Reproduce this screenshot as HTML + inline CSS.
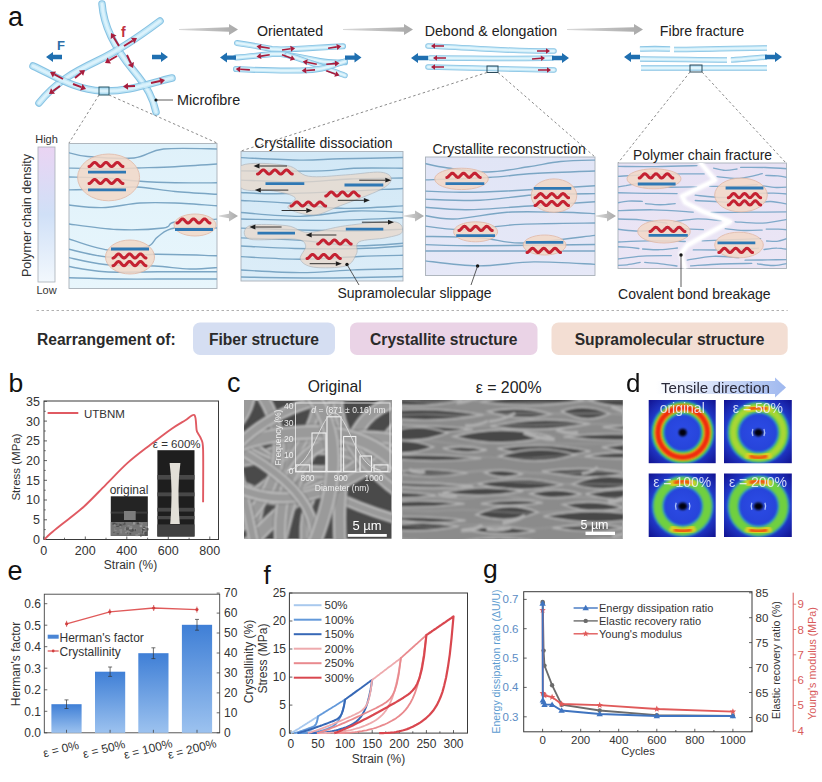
<!DOCTYPE html>
<html><head><meta charset="utf-8"><style>
html,body{margin:0;padding:0;background:#fff;}
svg{display:block;font-family:"Liberation Sans",sans-serif;}
</style></head><body>
<svg width="822" height="782" viewBox="0 0 822 782" font-family="Liberation Sans, sans-serif">
<defs>
<linearGradient id="densbar" x1="0" y1="0" x2="0" y2="1">
 <stop offset="0" stop-color="#ead4f3"/><stop offset="0.5" stop-color="#d0e0f7"/><stop offset="1" stop-color="#f2f8fd"/>
</linearGradient>
<linearGradient id="p1bg" x1="0" y1="0" x2="0" y2="1"><stop offset="0" stop-color="#dff1fa"/><stop offset="1" stop-color="#e8f6fc"/></linearGradient>
<linearGradient id="p2bg" x1="0" y1="0" x2="0" y2="1"><stop offset="0" stop-color="#d2e8f6"/><stop offset="1" stop-color="#dcedf8"/></linearGradient>
<linearGradient id="p3bg" x1="0" y1="0" x2="0" y2="1"><stop offset="0" stop-color="#e1e5f6"/><stop offset="1" stop-color="#e6e8f7"/></linearGradient>
<linearGradient id="p4bg" x1="0" y1="0" x2="0" y2="1"><stop offset="0" stop-color="#e8e2f4"/><stop offset="1" stop-color="#ebe6f5"/></linearGradient>
<linearGradient id="tens" x1="0" y1="0" x2="1" y2="0"><stop offset="0" stop-color="#ffffff"/><stop offset="1" stop-color="#9fb8ef"/></linearGradient>
<linearGradient id="bar" x1="0" y1="0" x2="0" y2="1"><stop offset="0" stop-color="#3f7fd6"/><stop offset="1" stop-color="#9cc2ef"/></linearGradient>
<linearGradient id="grayarr" x1="0" y1="0" x2="1" y2="0"><stop offset="0" stop-color="#d8d8d8"/><stop offset="1" stop-color="#a9a9a9"/></linearGradient>
<radialGradient id="xrdglow" cx="0.5" cy="0.5" r="0.5"><stop offset="0" stop-color="#0a2aa8"/><stop offset="0.7" stop-color="#1030b8"/><stop offset="1" stop-color="#0c1e90"/></radialGradient>
</defs>
<rect x="0" y="0" width="822" height="782" fill="#ffffff"/>
<text x="8" y="25.5" font-size="27" fill="#111" text-anchor="start" font-weight="normal" >a</text>
<path d="M102,4 C104,30 118,52 133,70 S153,98 156,112" fill="none" stroke="#86c2e3" stroke-width="7.5" stroke-linecap="round"/>
<path d="M102,4 C104,30 118,52 133,70 S153,98 156,112" fill="none" stroke="#bde4f5" stroke-width="5.4" stroke-linecap="round"/>
<path d="M102,4 C104,30 118,52 133,70 S153,98 156,112" fill="none" stroke="#e2f5fc" stroke-width="2.6" stroke-linecap="round"/>
<path d="M160,21 C140,36 120,50 97,61 S56,82 39,103" fill="none" stroke="#86c2e3" stroke-width="7.5" stroke-linecap="round"/>
<path d="M160,21 C140,36 120,50 97,61 S56,82 39,103" fill="none" stroke="#bde4f5" stroke-width="5.4" stroke-linecap="round"/>
<path d="M160,21 C140,36 120,50 97,61 S56,82 39,103" fill="none" stroke="#e2f5fc" stroke-width="2.6" stroke-linecap="round"/>
<path d="M33,66 C55,76 75,90 102,91 S150,83 172,78" fill="none" stroke="#86c2e3" stroke-width="7.5" stroke-linecap="round"/>
<path d="M33,66 C55,76 75,90 102,91 S150,83 172,78" fill="none" stroke="#bde4f5" stroke-width="5.4" stroke-linecap="round"/>
<path d="M33,66 C55,76 75,90 102,91 S150,83 172,78" fill="none" stroke="#e2f5fc" stroke-width="2.6" stroke-linecap="round"/>
<path d="M102,4 C104,30 118,52 133,70 S153,98 156,112" fill="none" stroke="#d4f0fb" stroke-width="3" stroke-linecap="round" opacity="0.5"/>
<path d="M160,21 C140,36 120,50 97,61 S56,82 39,103" fill="none" stroke="#d4f0fb" stroke-width="3" stroke-linecap="round" opacity="0.5"/>
<path d="M33,66 C55,76 75,90 102,91 S150,83 172,78" fill="none" stroke="#d4f0fb" stroke-width="3" stroke-linecap="round" opacity="0.5"/>
<line x1="119.0" y1="46.0" x2="113.6" y2="37.3" stroke="#a81c3c" stroke-width="1.9"/>
<polygon points="111.0,33.0 116.5,35.5 110.7,39.0" fill="#a81c3c"/>
<line x1="127.0" y1="55.0" x2="130.9" y2="63.5" stroke="#a81c3c" stroke-width="1.9"/>
<polygon points="133.0,68.0 127.8,64.9 134.0,62.0" fill="#a81c3c"/>
<line x1="124.0" y1="46.0" x2="132.7" y2="40.6" stroke="#a81c3c" stroke-width="1.9"/>
<polygon points="137.0,38.0 134.5,43.5 131.0,37.7" fill="#a81c3c"/>
<line x1="117.0" y1="56.0" x2="109.3" y2="60.5" stroke="#a81c3c" stroke-width="1.9"/>
<polygon points="105.0,63.0 107.6,57.5 111.0,63.4" fill="#a81c3c"/>
<line x1="75.0" y1="78.0" x2="81.1" y2="73.1" stroke="#a81c3c" stroke-width="1.9"/>
<polygon points="85.0,70.0 83.2,75.8 79.0,70.5" fill="#a81c3c"/>
<line x1="60.0" y1="86.0" x2="53.0" y2="91.1" stroke="#a81c3c" stroke-width="1.9"/>
<polygon points="49.0,94.0 51.0,88.3 55.0,93.8" fill="#a81c3c"/>
<line x1="63.0" y1="79.0" x2="54.4" y2="74.4" stroke="#a81c3c" stroke-width="1.9"/>
<polygon points="50.0,72.0 56.0,71.4 52.8,77.4" fill="#a81c3c"/>
<line x1="73.0" y1="84.0" x2="81.3" y2="87.2" stroke="#a81c3c" stroke-width="1.9"/>
<polygon points="86.0,89.0 80.1,90.4 82.6,84.0" fill="#a81c3c"/>
<line x1="135.0" y1="86.0" x2="128.0" y2="86.3" stroke="#a81c3c" stroke-width="1.9"/>
<polygon points="123.0,86.5 127.9,82.9 128.1,89.7" fill="#a81c3c"/>
<line x1="151.0" y1="83.0" x2="160.1" y2="81.0" stroke="#a81c3c" stroke-width="1.9"/>
<polygon points="165.0,80.0 160.8,84.4 159.4,77.7" fill="#a81c3c"/>
<polygon points="62,54.8 53,54.8 53,52 46,57 53,62 53,59.2 62,59.2" fill="#1f6fb0"/>
<polygon points="152,54.8 161,54.8 161,52 168,57 161,62 161,59.2 152,59.2" fill="#1f6fb0"/>
<text x="57" y="50" font-size="13" fill="#2c6ea8" text-anchor="start" font-weight="bold" >F</text>
<text x="121" y="37" font-size="14" fill="#c0303f" text-anchor="start" font-weight="bold" >f</text>
<rect x="99" y="87" width="10" height="8" fill="none" stroke="#2b5a6a" stroke-width="1"/>
<circle cx="156" cy="100" r="1.6" fill="#111"/>
<line x1="156" y1="100" x2="173" y2="100" stroke="#333" stroke-width="0.8"/>
<text x="177" y="105" font-size="14.4" fill="#222" text-anchor="start" font-weight="normal" >Microfibre</text>
<line x1="99" y1="95" x2="69" y2="143" stroke="#8a8a8a" stroke-width="1" stroke-dasharray="2.5,2.5"/>
<line x1="109" y1="95" x2="217" y2="143" stroke="#8a8a8a" stroke-width="1" stroke-dasharray="2.5,2.5"/>
<polygon points="179,28.9 229,27.3 229,24.0 238,29.5 229,35.0 229,31.7 179,30.1" fill="url(#grayarr)"/>
<polygon points="343,28.9 404,27.3 404,24.0 413,29.5 404,35.0 404,31.7 343,30.1" fill="url(#grayarr)"/>
<polygon points="567,28.9 634,27.3 634,24.0 643,29.5 634,35.0 634,31.7 567,30.1" fill="url(#grayarr)"/>
<text x="290" y="36" font-size="14.2" fill="#222" text-anchor="middle" font-weight="normal" >Orientated</text>
<text x="491" y="36" font-size="14.2" fill="#222" text-anchor="middle" font-weight="normal" >Debond &amp; elongation</text>
<text x="702" y="36" font-size="14.2" fill="#222" text-anchor="middle" font-weight="normal" >Fibre fracture</text>
<path d="M237,43 C250,45 262,47 272,49 L281,49.5 C300,49 325,47 343,46.3" fill="none" stroke="#86c2e3" stroke-width="6" stroke-linecap="round"/>
<path d="M237,43 C250,45 262,47 272,49 L281,49.5 C300,49 325,47 343,46.3" fill="none" stroke="#bde4f5" stroke-width="4.3" stroke-linecap="round"/>
<path d="M237,43 C250,45 262,47 272,49 L281,49.5 C300,49 325,47 343,46.3" fill="none" stroke="#e2f5fc" stroke-width="2.1" stroke-linecap="round"/>
<path d="M236,57.6 C250,56.5 262,55 272,54 L281,54 C295,56 310,59 320,61 S338,62.5 345,62.3" fill="none" stroke="#86c2e3" stroke-width="6" stroke-linecap="round"/>
<path d="M236,57.6 C250,56.5 262,55 272,54 L281,54 C295,56 310,59 320,61 S338,62.5 345,62.3" fill="none" stroke="#bde4f5" stroke-width="4.3" stroke-linecap="round"/>
<path d="M236,57.6 C250,56.5 262,55 272,54 L281,54 C295,56 310,59 320,61 S338,62.5 345,62.3" fill="none" stroke="#e2f5fc" stroke-width="2.1" stroke-linecap="round"/>
<path d="M287,55 C305,60 325,68 345,75.5" fill="none" stroke="#86c2e3" stroke-width="5.5" stroke-linecap="round"/>
<path d="M287,55 C305,60 325,68 345,75.5" fill="none" stroke="#bde4f5" stroke-width="4.0" stroke-linecap="round"/>
<path d="M287,55 C305,60 325,68 345,75.5" fill="none" stroke="#e2f5fc" stroke-width="1.9" stroke-linecap="round"/>
<path d="M236,69 C255,70 275,71 300,70.5 S330,66 345,61.4" fill="none" stroke="#86c2e3" stroke-width="6" stroke-linecap="round"/>
<path d="M236,69 C255,70 275,71 300,70.5 S330,66 345,61.4" fill="none" stroke="#bde4f5" stroke-width="4.3" stroke-linecap="round"/>
<path d="M236,69 C255,70 275,71 300,70.5 S330,66 345,61.4" fill="none" stroke="#e2f5fc" stroke-width="2.1" stroke-linecap="round"/>
<line x1="269.7" y1="48.2" x2="261.0" y2="46.9" stroke="#a81c3c" stroke-width="1.6"/>
<polygon points="256.5,46.3 261.4,44.0 260.5,49.9" fill="#a81c3c"/>
<line x1="282.0" y1="50.0" x2="290.6" y2="48.8" stroke="#a81c3c" stroke-width="1.6"/>
<polygon points="295.1,48.2 291.1,51.8 290.2,45.8" fill="#a81c3c"/>
<line x1="328.1" y1="48.2" x2="336.8" y2="46.9" stroke="#a81c3c" stroke-width="1.6"/>
<polygon points="341.3,46.3 337.3,49.9 336.4,44.0" fill="#a81c3c"/>
<line x1="269.7" y1="54.8" x2="261.0" y2="56.1" stroke="#a81c3c" stroke-width="1.6"/>
<polygon points="256.5,56.7 260.5,53.1 261.4,59.0" fill="#a81c3c"/>
<line x1="282.0" y1="54.8" x2="290.9" y2="58.0" stroke="#a81c3c" stroke-width="1.6"/>
<polygon points="295.1,59.5 289.9,60.8 291.9,55.2" fill="#a81c3c"/>
<line x1="316.8" y1="64.2" x2="307.1" y2="62.3" stroke="#a81c3c" stroke-width="1.6"/>
<polygon points="302.7,61.4 307.7,59.3 306.5,65.2" fill="#a81c3c"/>
<line x1="326.3" y1="64.2" x2="335.0" y2="63.6" stroke="#a81c3c" stroke-width="1.6"/>
<polygon points="339.5,63.3 335.2,66.6 334.8,60.6" fill="#a81c3c"/>
<line x1="249.9" y1="69.9" x2="240.2" y2="69.3" stroke="#a81c3c" stroke-width="1.6"/>
<polygon points="235.7,69.0 240.4,66.3 240.0,72.3" fill="#a81c3c"/>
<line x1="315.0" y1="69.9" x2="306.2" y2="70.5" stroke="#a81c3c" stroke-width="1.6"/>
<polygon points="301.7,70.8 306.0,67.5 306.4,73.5" fill="#a81c3c"/>
<line x1="326.3" y1="70.8" x2="335.3" y2="74.0" stroke="#a81c3c" stroke-width="1.6"/>
<polygon points="339.5,75.5 334.3,76.8 336.3,71.2" fill="#a81c3c"/>
<polygon points="236,55.4 227,55.4 227,52.6 220,57.6 227,62.6 227,59.800000000000004 236,59.800000000000004" fill="#1f6fb0"/>
<polygon points="345,55.4 354.5,55.4 354.5,52.6 361.5,57.6 354.5,62.6 354.5,59.800000000000004 345,59.800000000000004" fill="#1f6fb0"/>
<path d="M428,46 C460,47 520,52 554,51" fill="none" stroke="#86c2e3" stroke-width="5.5" stroke-linecap="round"/>
<path d="M428,46 C460,47 520,52 554,51" fill="none" stroke="#bde4f5" stroke-width="4.0" stroke-linecap="round"/>
<path d="M428,46 C460,47 520,52 554,51" fill="none" stroke="#e2f5fc" stroke-width="1.9" stroke-linecap="round"/>
<path d="M430,58 C470,58 520,59 552,58" fill="none" stroke="#86c2e3" stroke-width="5.5" stroke-linecap="round"/>
<path d="M430,58 C470,58 520,59 552,58" fill="none" stroke="#bde4f5" stroke-width="4.0" stroke-linecap="round"/>
<path d="M430,58 C470,58 520,59 552,58" fill="none" stroke="#e2f5fc" stroke-width="1.9" stroke-linecap="round"/>
<path d="M428,67 C470,68 520,69 554,70" fill="none" stroke="#86c2e3" stroke-width="5.5" stroke-linecap="round"/>
<path d="M428,67 C470,68 520,69 554,70" fill="none" stroke="#bde4f5" stroke-width="4.0" stroke-linecap="round"/>
<path d="M428,67 C470,68 520,69 554,70" fill="none" stroke="#e2f5fc" stroke-width="1.9" stroke-linecap="round"/>
<line x1="444.0" y1="46.0" x2="435.0" y2="46.0" stroke="#a81c3c" stroke-width="1.5"/>
<polygon points="431.0,46.0 435.0,43.2 435.0,48.8" fill="#a81c3c"/>
<line x1="446.0" y1="58.0" x2="437.0" y2="58.0" stroke="#a81c3c" stroke-width="1.5"/>
<polygon points="433.0,58.0 437.0,55.2 437.0,60.8" fill="#a81c3c"/>
<line x1="444.0" y1="67.0" x2="435.0" y2="67.0" stroke="#a81c3c" stroke-width="1.5"/>
<polygon points="431.0,67.0 435.0,64.2 435.0,69.8" fill="#a81c3c"/>
<line x1="537.0" y1="51.0" x2="546.0" y2="51.0" stroke="#a81c3c" stroke-width="1.5"/>
<polygon points="550.0,51.0 546.0,53.8 546.0,48.2" fill="#a81c3c"/>
<line x1="532.0" y1="59.0" x2="541.0" y2="58.3" stroke="#a81c3c" stroke-width="1.5"/>
<polygon points="545.0,58.0 541.2,61.1 540.8,55.5" fill="#a81c3c"/>
<line x1="538.0" y1="70.0" x2="547.0" y2="70.0" stroke="#a81c3c" stroke-width="1.5"/>
<polygon points="551.0,70.0 547.0,72.8 547.0,67.2" fill="#a81c3c"/>
<polygon points="428,55.8 418,55.8 418,53 411,58 418,63 418,60.2 428,60.2" fill="#1f6fb0"/>
<polygon points="552,55.8 562,55.8 562,53 569,58 562,63 562,60.2 552,60.2" fill="#1f6fb0"/>
<rect x="487" y="66" width="11" height="6.5" fill="none" stroke="#2b4a5a" stroke-width="1"/>
<line x1="487" y1="72.5" x2="241" y2="151" stroke="#8a8a8a" stroke-width="1" stroke-dasharray="2.5,2.5"/>
<line x1="498" y1="72.5" x2="595" y2="157" stroke="#8a8a8a" stroke-width="1" stroke-dasharray="2.5,2.5"/>
<path d="M640,49 C650,48.5 660,48.5 670,49" fill="none" stroke="#86c2e3" stroke-width="5.5" stroke-linecap="butt"/>
<path d="M640,49 C650,48.5 660,48.5 670,49" fill="none" stroke="#bde4f5" stroke-width="4.0" stroke-linecap="butt"/>
<path d="M640,49 C650,48.5 660,48.5 670,49" fill="none" stroke="#e2f5fc" stroke-width="1.9" stroke-linecap="butt"/>
<path d="M674,49.5 C700,49.5 740,48 767,48" fill="none" stroke="#86c2e3" stroke-width="5.5" stroke-linecap="butt"/>
<path d="M674,49.5 C700,49.5 740,48 767,48" fill="none" stroke="#bde4f5" stroke-width="4.0" stroke-linecap="butt"/>
<path d="M674,49.5 C700,49.5 740,48 767,48" fill="none" stroke="#e2f5fc" stroke-width="1.9" stroke-linecap="butt"/>
<path d="M640,59 C670,59 700,60 727,60" fill="none" stroke="#86c2e3" stroke-width="5.5" stroke-linecap="butt"/>
<path d="M640,59 C670,59 700,60 727,60" fill="none" stroke="#bde4f5" stroke-width="4.0" stroke-linecap="butt"/>
<path d="M640,59 C670,59 700,60 727,60" fill="none" stroke="#e2f5fc" stroke-width="1.9" stroke-linecap="butt"/>
<path d="M731,60 C745,59 755,58 767,57" fill="none" stroke="#86c2e3" stroke-width="5.5" stroke-linecap="butt"/>
<path d="M731,60 C745,59 755,58 767,57" fill="none" stroke="#bde4f5" stroke-width="4.0" stroke-linecap="butt"/>
<path d="M731,60 C745,59 755,58 767,57" fill="none" stroke="#e2f5fc" stroke-width="1.9" stroke-linecap="butt"/>
<path d="M641,68 C680,68 720,68 767,68" fill="none" stroke="#86c2e3" stroke-width="5.5" stroke-linecap="butt"/>
<path d="M641,68 C680,68 720,68 767,68" fill="none" stroke="#bde4f5" stroke-width="4.0" stroke-linecap="butt"/>
<path d="M641,68 C680,68 720,68 767,68" fill="none" stroke="#e2f5fc" stroke-width="1.9" stroke-linecap="butt"/>
<polygon points="640,54.8 631,54.8 631,52 624,57 631,62 631,59.2 640,59.2" fill="#1f6fb0"/>
<polygon points="765,54.8 775,54.8 775,52 782,57 775,62 775,59.2 765,59.2" fill="#1f6fb0"/>
<rect x="690" y="65" width="12" height="7" fill="none" stroke="#2b4a5a" stroke-width="1"/>
<line x1="690" y1="72" x2="618" y2="163" stroke="#8a8a8a" stroke-width="1" stroke-dasharray="2.5,2.5"/>
<line x1="702" y1="72" x2="786" y2="163" stroke="#8a8a8a" stroke-width="1" stroke-dasharray="2.5,2.5"/>
<rect x="38" y="147" width="17" height="135" fill="url(#densbar)" stroke="#a9aeb6" stroke-width="0.8"/>
<text x="46.5" y="142.5" font-size="11" fill="#333" text-anchor="middle" font-weight="normal" >High</text>
<text x="46.5" y="293.5" font-size="11" fill="#333" text-anchor="middle" font-weight="normal" >Low</text>
<text x="0" y="0" font-size="12.6" fill="#333" text-anchor="middle" font-weight="normal" transform="translate(31,215.5) rotate(-90)">Polymer chain density</text>
<rect x="69" y="143.5" width="148" height="145" fill="url(#p1bg)" stroke="#a8b0b8" stroke-width="0.9"/>
<clipPath id="c1"><rect x="69" y="143.5" width="148" height="145"/></clipPath>
<g clip-path="url(#c1)">
<path d="M66.0,152.0 C69.6,152.8 76.3,155.5 87.6,156.5 C98.9,157.5 121.3,159.2 134.0,158.0 C146.7,156.8 149.2,150.5 163.5,149.0 C177.8,147.5 210.6,149.0 220.0,149.0" fill="none" stroke="#7ba6c4" stroke-width="1.4"/>
<path d="M66.0,168.0 C72.5,168.2 93.2,169.0 105.0,169.0 C116.8,169.0 125.3,168.4 137.0,168.0 C148.7,167.6 161.2,167.4 175.0,166.7 C188.8,166.0 212.5,164.3 220.0,163.8" fill="none" stroke="#7ba6c4" stroke-width="1.4"/>
<path d="M66.0,177.0 C72.5,177.2 93.2,177.3 105.0,178.0 C116.8,178.7 125.3,180.2 137.0,181.0 C148.7,181.8 161.2,182.5 175.0,182.8 C188.8,183.1 212.5,182.8 220.0,182.8" fill="none" stroke="#7ba6c4" stroke-width="1.4"/>
<path d="M66.0,190.0 C72.5,189.8 93.2,189.5 105.0,189.0 C116.8,188.5 125.3,186.6 137.0,187.0 C148.7,187.4 161.2,190.2 175.0,191.5 C188.8,192.8 212.5,194.0 220.0,194.5" fill="none" stroke="#7ba6c4" stroke-width="1.4"/>
<path d="M66.0,204.7 C72.0,205.2 89.7,207.9 102.0,207.6 C114.3,207.3 127.8,203.8 140.0,203.0 C152.2,202.2 161.7,202.5 175.0,203.0 C188.3,203.5 212.5,205.5 220.0,206.0" fill="none" stroke="#7ba6c4" stroke-width="1.4"/>
<path d="M66.0,223.6 C74.5,224.6 100.5,228.8 116.8,229.5 C133.1,230.2 153.8,229.2 163.5,228.0 C173.2,226.8 165.6,223.5 175.0,222.0 C184.4,220.5 212.5,219.5 220.0,219.0" fill="none" stroke="#7ba6c4" stroke-width="1.4"/>
<path d="M66.0,238.0 C73.0,240.0 94.7,248.5 108.0,250.0 C121.3,251.5 137.7,249.2 146.0,247.0 C154.3,244.8 152.9,240.0 157.7,236.8 C162.5,233.6 164.6,229.5 175.0,228.0 C185.4,226.5 212.5,228.0 220.0,228.0" fill="none" stroke="#7ba6c4" stroke-width="1.4"/>
<path d="M66.0,248.5 C73.0,249.9 93.2,256.0 108.0,257.0 C122.8,258.0 136.0,254.5 154.7,254.3 C173.4,254.1 209.1,255.6 220.0,255.8" fill="none" stroke="#7ba6c4" stroke-width="1.4"/>
<path d="M66.0,257.0 C72.5,258.2 90.2,263.0 105.0,264.5 C119.8,266.0 140.6,265.2 154.7,266.0 C168.8,266.8 178.9,268.8 189.8,269.0 C200.7,269.2 215.0,267.7 220.0,267.4" fill="none" stroke="#7ba6c4" stroke-width="1.4"/>
<path d="M66.0,266.0 C72.5,267.0 89.7,270.8 105.0,271.8 C120.3,272.8 138.5,271.8 157.7,271.8 C176.9,271.8 209.6,271.8 220.0,271.8" fill="none" stroke="#7ba6c4" stroke-width="1.4"/>
<path d="M66.0,277.7 C74.5,277.9 98.6,278.8 116.8,279.0 C135.0,279.2 157.8,279.0 175.0,279.0 C192.2,279.0 212.5,279.0 220.0,279.0" fill="none" stroke="#7ba6c4" stroke-width="1.4"/>
</g>
<ellipse cx="108.6" cy="177.4" rx="31" ry="23.4" fill="#f3d9c8" stroke="#e2b9a6" stroke-width="1" opacity="0.85"/>
<polyline points="89.0,166.6 89.6,166.5 90.1,166.2 90.7,165.7 91.3,165.1 91.8,164.5 92.4,163.9 93.0,163.3 93.5,162.8 94.1,162.5 94.7,162.4 95.2,162.5 95.8,162.8 96.4,163.3 96.9,163.9 97.5,164.5 98.1,165.1 98.6,165.7 99.2,166.2 99.8,166.5 100.3,166.6 100.9,166.5 101.5,166.2 102.0,165.7 102.6,165.1 103.2,164.5 103.7,163.9 104.3,163.3 104.9,162.8 105.4,162.5 106.0,162.4 106.6,162.5 107.1,162.8 107.7,163.3 108.3,163.9 108.8,164.5 109.4,165.1 110.0,165.7 110.5,166.2 111.1,166.5 111.7,166.6 112.2,166.5 112.8,166.2 113.4,165.7 113.9,165.1 114.5,164.5 115.1,163.9 115.6,163.3 116.2,162.8 116.8,162.5 117.3,162.4 117.9,162.5 118.5,162.8 119.0,163.3 119.6,163.9 120.2,164.5 120.7,165.1 121.3,165.7 121.9,166.2 122.4,166.5 123.0,166.6" fill="none" stroke="#c42232" stroke-width="3.0" stroke-linecap="round" stroke-linejoin="round"/>
<line x1="88" y1="172.2" x2="126" y2="172.2" stroke="#2f78b4" stroke-width="2.8"/>
<polyline points="89.0,183.6 89.6,183.5 90.1,183.2 90.7,182.7 91.3,182.1 91.8,181.5 92.4,180.9 93.0,180.3 93.5,179.8 94.1,179.5 94.7,179.4 95.2,179.5 95.8,179.8 96.4,180.3 96.9,180.9 97.5,181.5 98.1,182.1 98.6,182.7 99.2,183.2 99.8,183.5 100.3,183.6 100.9,183.5 101.5,183.2 102.0,182.7 102.6,182.1 103.2,181.5 103.7,180.9 104.3,180.3 104.9,179.8 105.4,179.5 106.0,179.4 106.6,179.5 107.1,179.8 107.7,180.3 108.3,180.9 108.8,181.5 109.4,182.1 110.0,182.7 110.5,183.2 111.1,183.5 111.7,183.6 112.2,183.5 112.8,183.2 113.4,182.7 113.9,182.1 114.5,181.5 115.1,180.9 115.6,180.3 116.2,179.8 116.8,179.5 117.3,179.4 117.9,179.5 118.5,179.8 119.0,180.3 119.6,180.9 120.2,181.5 120.7,182.1 121.3,182.7 121.9,183.2 122.4,183.5 123.0,183.6" fill="none" stroke="#c42232" stroke-width="3.0" stroke-linecap="round" stroke-linejoin="round"/>
<line x1="88" y1="189.8" x2="126" y2="189.8" stroke="#2f78b4" stroke-width="2.8"/>
<ellipse cx="195" cy="225" rx="21" ry="11" fill="#f3d9c8" stroke="#e2b9a6" stroke-width="1" opacity="0.85"/>
<polyline points="177.0,223.1 177.6,223.0 178.1,222.7 178.7,222.2 179.2,221.6 179.8,221.0 180.3,220.4 180.8,219.8 181.4,219.3 181.9,219.0 182.5,218.9 183.1,219.0 183.6,219.3 184.2,219.8 184.7,220.4 185.2,221.0 185.8,221.6 186.3,222.2 186.9,222.7 187.4,223.0 188.0,223.1 188.6,223.0 189.1,222.7 189.7,222.2 190.2,221.6 190.8,221.0 191.3,220.4 191.8,219.8 192.4,219.3 192.9,219.0 193.5,218.9 194.1,219.0 194.6,219.3 195.2,219.8 195.7,220.4 196.2,221.0 196.8,221.6 197.3,222.2 197.9,222.7 198.4,223.0 199.0,223.1 199.6,223.0 200.1,222.7 200.7,222.2 201.2,221.6 201.8,221.0 202.3,220.4 202.8,219.8 203.4,219.3 203.9,219.0 204.5,218.9 205.1,219.0 205.6,219.3 206.2,219.8 206.7,220.4 207.2,221.0 207.8,221.6 208.3,222.2 208.9,222.7 209.4,223.0 210.0,223.1" fill="none" stroke="#c42232" stroke-width="3.0" stroke-linecap="round" stroke-linejoin="round"/>
<line x1="175" y1="229.5" x2="213" y2="229.5" stroke="#2f78b4" stroke-width="2.8"/>
<ellipse cx="130" cy="257" rx="24.5" ry="17" fill="#f3d9c8" stroke="#e2b9a6" stroke-width="1" opacity="0.85"/>
<line x1="111" y1="249" x2="149" y2="249" stroke="#2f78b4" stroke-width="2.8"/>
<polyline points="113.0,258.1 113.5,258.0 114.1,257.7 114.7,257.2 115.2,256.6 115.8,256.0 116.3,255.4 116.8,254.8 117.4,254.3 118.0,254.0 118.5,253.9 119.0,254.0 119.6,254.3 120.2,254.8 120.7,255.4 121.2,256.0 121.8,256.6 122.3,257.2 122.9,257.7 123.5,258.0 124.0,258.1 124.5,258.0 125.1,257.7 125.7,257.2 126.2,256.6 126.8,256.0 127.3,255.4 127.8,254.8 128.4,254.3 128.9,254.0 129.5,253.9 130.1,254.0 130.6,254.3 131.2,254.8 131.7,255.4 132.2,256.0 132.8,256.6 133.3,257.2 133.9,257.7 134.4,258.0 135.0,258.1 135.6,258.0 136.1,257.7 136.7,257.2 137.2,256.6 137.8,256.0 138.3,255.4 138.8,254.8 139.4,254.3 139.9,254.0 140.5,253.9 141.1,254.0 141.6,254.3 142.2,254.8 142.7,255.4 143.2,256.0 143.8,256.6 144.3,257.2 144.9,257.7 145.4,258.0 146.0,258.1" fill="none" stroke="#c42232" stroke-width="3.0" stroke-linecap="round" stroke-linejoin="round"/>
<polyline points="113.0,265.7 113.5,265.6 114.1,265.3 114.7,264.8 115.2,264.2 115.8,263.6 116.3,263.0 116.8,262.4 117.4,261.9 118.0,261.6 118.5,261.5 119.0,261.6 119.6,261.9 120.2,262.4 120.7,263.0 121.2,263.6 121.8,264.2 122.3,264.8 122.9,265.3 123.5,265.6 124.0,265.7 124.5,265.6 125.1,265.3 125.7,264.8 126.2,264.2 126.8,263.6 127.3,263.0 127.8,262.4 128.4,261.9 128.9,261.6 129.5,261.5 130.1,261.6 130.6,261.9 131.2,262.4 131.7,263.0 132.2,263.6 132.8,264.2 133.3,264.8 133.9,265.3 134.4,265.6 135.0,265.7 135.6,265.6 136.1,265.3 136.7,264.8 137.2,264.2 137.8,263.6 138.3,263.0 138.8,262.4 139.4,261.9 139.9,261.6 140.5,261.5 141.1,261.6 141.6,261.9 142.2,262.4 142.7,263.0 143.2,263.6 143.8,264.2 144.3,264.8 144.9,265.3 145.4,265.6 146.0,265.7" fill="none" stroke="#c42232" stroke-width="3.0" stroke-linecap="round" stroke-linejoin="round"/>
<polygon points="219,215.4 229,213.8 229,210.5 238,216 229,221.5 229,218.2 219,216.6" fill="url(#grayarr)"/>
<rect x="241" y="151.5" width="162" height="129.5" fill="url(#p2bg)" stroke="#a8b0b8" stroke-width="0.9"/>
<clipPath id="c2"><rect x="241" y="151.5" width="162" height="129.5"/></clipPath>
<g clip-path="url(#c2)">
<path d="M238.0,157.5 C248.4,157.9 283.2,159.9 300.3,160.1 C317.4,160.3 322.8,159.2 340.4,158.8 C358.0,158.4 395.1,157.7 406.0,157.5" fill="none" stroke="#7ba6c4" stroke-width="1.4"/>
<path d="M238.0,170.9 C251.9,170.9 302.4,171.4 321.7,170.9 C341.0,170.4 339.8,168.6 353.8,168.2 C367.9,167.8 397.3,168.2 406.0,168.2" fill="none" stroke="#7ba6c4" stroke-width="1.4"/>
<path d="M238.0,180.0 C248.3,180.3 281.3,182.2 300.0,182.0 C318.7,181.8 332.3,179.7 350.0,179.0 C367.7,178.3 396.7,178.2 406.0,178.0" fill="none" stroke="#7ba6c4" stroke-width="1.4"/>
<path d="M238.0,192.3 C246.2,192.5 259.0,194.3 287.0,193.6 C315.0,192.9 386.2,189.2 406.0,188.3" fill="none" stroke="#7ba6c4" stroke-width="1.4"/>
<path d="M238.0,200.3 C246.2,200.8 269.9,201.7 287.0,203.0 C304.1,204.3 320.6,207.9 340.4,208.3 C360.2,208.8 395.1,206.1 406.0,205.7" fill="none" stroke="#7ba6c4" stroke-width="1.4"/>
<path d="M238.0,212.3 C248.4,213.0 281.0,216.6 300.3,216.4 C319.6,216.2 336.2,211.7 353.8,211.0 C371.4,210.3 397.3,212.1 406.0,212.3" fill="none" stroke="#7ba6c4" stroke-width="1.4"/>
<path d="M238.0,219.0 C252.8,219.2 299.0,220.6 327.0,220.4 C355.0,220.2 392.8,218.1 406.0,217.7" fill="none" stroke="#7ba6c4" stroke-width="1.4"/>
<path d="M238.0,228.0 C248.3,228.3 279.7,229.5 300.0,230.0 C320.3,230.5 342.3,231.2 360.0,231.0 C377.7,230.8 398.3,229.3 406.0,229.0" fill="none" stroke="#7ba6c4" stroke-width="1.4"/>
<path d="M238.0,237.8 C248.4,238.2 281.0,239.1 300.3,240.4 C319.6,241.7 336.2,245.4 353.8,245.8 C371.4,246.2 397.3,243.6 406.0,243.1" fill="none" stroke="#7ba6c4" stroke-width="1.4"/>
<path d="M238.0,245.8 C247.5,246.2 274.8,248.1 295.0,248.5 C315.2,248.9 340.7,248.9 359.2,248.5 C377.7,248.1 398.2,246.2 406.0,245.8" fill="none" stroke="#7ba6c4" stroke-width="1.4"/>
<path d="M238.0,256.5 C248.4,256.9 280.1,259.2 300.3,259.2 C320.5,259.2 341.6,257.2 359.2,256.5 C376.8,255.8 398.2,255.4 406.0,255.2" fill="none" stroke="#7ba6c4" stroke-width="1.4"/>
<path d="M238.0,269.9 C248.4,270.3 281.0,272.6 300.3,272.6 C319.6,272.6 336.2,270.6 353.8,269.9 C371.4,269.2 397.3,268.8 406.0,268.6" fill="none" stroke="#7ba6c4" stroke-width="1.4"/>
<path d="M238.0,277.0 C251.7,277.2 292.0,278.1 320.0,278.0 C348.0,277.9 391.7,276.8 406.0,276.5" fill="none" stroke="#7ba6c4" stroke-width="1.4"/>
<path d="M241.4,165.5 C249.0,161.7 275.8,163.7 286.9,165.5 C298.0,167.3 298.5,174.6 308.3,176.2 C318.1,177.8 333.8,175.6 345.8,174.9 C357.9,174.2 373.0,171.5 380.6,172.2 C388.2,172.9 391.3,176.0 391.3,178.9 C391.3,181.8 389.1,185.1 380.6,189.6 C372.1,194.1 351.5,201.5 340.4,205.7 C329.2,209.9 322.4,214.6 313.7,215.0 C305.0,215.4 291.4,211.2 288.3,208.3 C285.2,205.4 297.5,200.5 295.0,197.6 C292.5,194.7 282.4,192.4 273.5,190.9 C264.6,189.4 246.8,192.5 241.4,188.3 C236.1,184.1 233.8,169.3 241.4,165.5Z" fill="#ead9cb" stroke="#a9adb2" stroke-width="0.8" opacity="0.75"/>
<path d="M249.4,225.7 C255.7,223.5 277.1,224.6 286.9,225.7 C296.7,226.8 298.5,232.4 308.3,232.4 C318.1,232.4 331.5,227.5 345.8,225.7 C360.1,223.9 384.6,220.6 394.0,221.7 C403.4,222.8 403.3,229.7 402.0,232.4 C400.7,235.1 393.1,236.2 386.0,237.8 C378.9,239.4 364.1,239.1 359.2,241.8 C354.3,244.5 358.7,249.8 356.5,253.8 C354.3,257.8 352.9,263.7 345.8,265.9 C338.7,268.1 321.3,268.3 313.7,267.2 C306.1,266.1 301.6,262.8 300.3,259.2 C299.0,255.6 306.6,249.2 305.7,245.8 C304.8,242.5 304.4,240.2 295.0,239.1 C285.6,238.0 257.0,241.3 249.4,239.1 C241.8,236.9 243.2,227.9 249.4,225.7Z" fill="#ead9cb" stroke="#a9adb2" stroke-width="0.8" opacity="0.75"/>
</g>
<polyline points="257.5,174.1 258.1,174.0 258.7,173.7 259.2,173.2 259.8,172.6 260.4,172.0 261.0,171.4 261.6,170.8 262.1,170.3 262.7,170.0 263.3,169.9 263.9,170.0 264.5,170.3 265.0,170.8 265.6,171.4 266.2,172.0 266.8,172.6 267.4,173.2 267.9,173.7 268.5,174.0 269.1,174.1 269.7,174.0 270.3,173.7 270.8,173.2 271.4,172.6 272.0,172.0 272.6,171.4 273.2,170.8 273.7,170.3 274.3,170.0 274.9,169.9 275.5,170.0 276.1,170.3 276.6,170.8 277.2,171.4 277.8,172.0 278.4,172.6 279.0,173.2 279.5,173.7 280.1,174.0 280.7,174.1 281.3,174.0 281.9,173.7 282.4,173.2 283.0,172.6 283.6,172.0 284.2,171.4 284.8,170.8 285.3,170.3 285.9,170.0 286.5,169.9 287.1,170.0 287.7,170.3 288.2,170.8 288.8,171.4 289.4,172.0 290.0,172.6 290.6,173.2 291.1,173.7 291.7,174.0 292.3,174.1" fill="none" stroke="#c42232" stroke-width="3.0" stroke-linecap="round" stroke-linejoin="round"/>
<polyline points="325.7,196.1 326.3,196.0 326.8,195.7 327.4,195.2 327.9,194.6 328.5,194.0 329.1,193.4 329.6,192.8 330.2,192.3 330.7,192.0 331.3,191.9 331.8,192.0 332.4,192.3 333.0,192.8 333.5,193.4 334.1,194.0 334.6,194.6 335.2,195.2 335.8,195.7 336.3,196.0 336.9,196.1 337.4,196.0 338.0,195.7 338.5,195.2 339.1,194.6 339.7,194.0 340.2,193.4 340.8,192.8 341.3,192.3 341.9,192.0 342.4,191.9 343.0,192.0 343.6,192.3 344.1,192.8 344.7,193.4 345.2,194.0 345.8,194.6 346.4,195.2 346.9,195.7 347.5,196.0 348.0,196.1 348.6,196.0 349.1,195.7 349.7,195.2 350.3,194.6 350.8,194.0 351.4,193.4 351.9,192.8 352.5,192.3 353.1,192.0 353.6,191.9 354.2,192.0 354.7,192.3 355.3,192.8 355.8,193.4 356.4,194.0 357.0,194.6 357.5,195.2 358.1,195.7 358.6,196.0 359.2,196.1" fill="none" stroke="#c42232" stroke-width="3.0" stroke-linecap="round" stroke-linejoin="round"/>
<polyline points="291.0,206.1 291.6,206.0 292.2,205.7 292.7,205.2 293.3,204.6 293.9,204.0 294.5,203.4 295.0,202.8 295.6,202.3 296.2,202.0 296.8,201.9 297.4,202.0 297.9,202.3 298.5,202.8 299.1,203.4 299.7,204.0 300.3,204.6 300.8,205.2 301.4,205.7 302.0,206.0 302.6,206.1 303.1,206.0 303.7,205.7 304.3,205.2 304.9,204.6 305.5,204.0 306.0,203.4 306.6,202.8 307.2,202.3 307.8,202.0 308.4,201.9 308.9,202.0 309.5,202.3 310.1,202.8 310.7,203.4 311.2,204.0 311.8,204.6 312.4,205.2 313.0,205.7 313.6,206.0 314.1,206.1 314.7,206.0 315.3,205.7 315.9,205.2 316.4,204.6 317.0,204.0 317.6,203.4 318.2,202.8 318.8,202.3 319.3,202.0 319.9,201.9 320.5,202.0 321.1,202.3 321.7,202.8 322.2,203.4 322.8,204.0 323.4,204.6 324.0,205.2 324.5,205.7 325.1,206.0 325.7,206.1" fill="none" stroke="#c42232" stroke-width="3.0" stroke-linecap="round" stroke-linejoin="round"/>
<polyline points="317.7,244.1 318.3,244.0 318.8,243.7 319.4,243.2 319.9,242.6 320.5,242.0 321.1,241.4 321.6,240.8 322.2,240.3 322.7,240.0 323.3,239.9 323.8,240.0 324.4,240.3 325.0,240.8 325.5,241.4 326.1,242.0 326.6,242.6 327.2,243.2 327.8,243.7 328.3,244.0 328.9,244.1 329.4,244.0 330.0,243.7 330.5,243.2 331.1,242.6 331.7,242.0 332.2,241.4 332.8,240.8 333.3,240.3 333.9,240.0 334.4,239.9 335.0,240.0 335.6,240.3 336.1,240.8 336.7,241.4 337.2,242.0 337.8,242.6 338.4,243.2 338.9,243.7 339.5,244.0 340.0,244.1 340.6,244.0 341.1,243.7 341.7,243.2 342.3,242.6 342.8,242.0 343.4,241.4 343.9,240.8 344.5,240.3 345.1,240.0 345.6,239.9 346.2,240.0 346.7,240.3 347.3,240.8 347.8,241.4 348.4,242.0 349.0,242.6 349.5,243.2 350.1,243.7 350.6,244.0 351.2,244.1" fill="none" stroke="#c42232" stroke-width="3.0" stroke-linecap="round" stroke-linejoin="round"/>
<polyline points="307.0,258.6 307.6,258.5 308.1,258.2 308.7,257.7 309.2,257.1 309.8,256.5 310.3,255.9 310.9,255.3 311.5,254.8 312.0,254.5 312.6,254.4 313.1,254.5 313.7,254.8 314.2,255.3 314.8,255.9 315.4,256.5 315.9,257.1 316.5,257.7 317.0,258.2 317.6,258.5 318.1,258.6 318.7,258.5 319.2,258.2 319.8,257.7 320.4,257.1 320.9,256.5 321.5,255.9 322.0,255.3 322.6,254.8 323.1,254.5 323.7,254.4 324.3,254.5 324.8,254.8 325.4,255.3 325.9,255.9 326.5,256.5 327.0,257.1 327.6,257.7 328.2,258.2 328.7,258.5 329.3,258.6 329.8,258.5 330.4,258.2 330.9,257.7 331.5,257.1 332.0,256.5 332.6,255.9 333.2,255.3 333.7,254.8 334.3,254.5 334.8,254.4 335.4,254.5 335.9,254.8 336.5,255.3 337.1,255.9 337.6,256.5 338.2,257.1 338.7,257.7 339.3,258.2 339.8,258.5 340.4,258.6" fill="none" stroke="#c42232" stroke-width="3.0" stroke-linecap="round" stroke-linejoin="round"/>
<line x1="265.5" y1="183.7" x2="304.3" y2="183.7" stroke="#2f78b4" stroke-width="2.8"/>
<line x1="344.5" y1="185" x2="383.3" y2="185" stroke="#2f78b4" stroke-width="2.8"/>
<line x1="257.5" y1="233.2" x2="295" y2="233.2" stroke="#2f78b4" stroke-width="2.8"/>
<line x1="345.8" y1="229.2" x2="383.3" y2="229.2" stroke="#2f78b4" stroke-width="2.8"/>
<line x1="287" y1="166" x2="259.5" y2="166" stroke="#1e1e1e" stroke-width="0.9"/>
<polygon points="253.5,166 259.5,163.6 259.5,168.4" fill="#1e1e1e"/>
<line x1="288.3" y1="190.1" x2="260.8" y2="190.1" stroke="#1e1e1e" stroke-width="0.9"/>
<polygon points="254.8,190.1 260.8,187.7 260.8,192.5" fill="#1e1e1e"/>
<line x1="359.2" y1="180.2" x2="385.3" y2="180.2" stroke="#1e1e1e" stroke-width="0.9"/>
<polygon points="391.3,180.2 385.3,177.79999999999998 385.3,182.6" fill="#1e1e1e"/>
<line x1="337.8" y1="200.3" x2="363.9" y2="200.3" stroke="#1e1e1e" stroke-width="0.9"/>
<polygon points="369.9,200.3 363.9,197.9 363.9,202.70000000000002" fill="#1e1e1e"/>
<line x1="281.6" y1="210.5" x2="306.3" y2="210.5" stroke="#1e1e1e" stroke-width="0.9"/>
<polygon points="312.3,210.5 306.3,208.1 306.3,212.9" fill="#1e1e1e"/>
<line x1="281.6" y1="227" x2="255.4" y2="227" stroke="#1e1e1e" stroke-width="0.9"/>
<polygon points="249.4,227 255.4,224.6 255.4,229.4" fill="#1e1e1e"/>
<line x1="336.4" y1="235" x2="311.7" y2="235" stroke="#1e1e1e" stroke-width="0.9"/>
<polygon points="305.7,235 311.7,232.6 311.7,237.4" fill="#1e1e1e"/>
<line x1="361.9" y1="222.2" x2="388" y2="222.2" stroke="#1e1e1e" stroke-width="0.9"/>
<polygon points="394,222.2 388,219.79999999999998 388,224.6" fill="#1e1e1e"/>
<line x1="309.7" y1="263.7" x2="335.8" y2="263.7" stroke="#1e1e1e" stroke-width="0.9"/>
<polygon points="341.8,263.7 335.8,261.3 335.8,266.09999999999997" fill="#1e1e1e"/>
<text x="323.4" y="147.5" font-size="14" fill="#222" text-anchor="middle" font-weight="normal" >Crystallite dissociation</text>
<circle cx="347" cy="264.5" r="1.7" fill="#111"/>
<line x1="347" y1="264.5" x2="359" y2="285" stroke="#333" stroke-width="0.8"/>
<text x="337.5" y="297.5" font-size="14" fill="#222" text-anchor="start" font-weight="normal" >Supramolecular slippage</text>
<polygon points="404,215.4 415,213.8 415,210.5 424,216 415,221.5 415,218.2 404,216.6" fill="url(#grayarr)"/>
<rect x="425.5" y="157" width="169.5" height="118.5" fill="url(#p3bg)" stroke="#a8b0b8" stroke-width="0.9"/>
<clipPath id="c3"><rect x="425.5" y="157" width="169.5" height="118.5"/></clipPath>
<g clip-path="url(#c3)">
<path d="M422.0,162.8 C426.3,163.7 437.0,166.5 448.0,168.0 C459.0,169.5 474.6,172.2 488.0,172.0 C501.4,171.8 516.4,168.6 528.5,166.8 C540.6,165.1 549.0,162.6 560.6,161.5 C572.2,160.4 591.8,160.2 598.0,160.0" fill="none" stroke="#7ba6c4" stroke-width="1.4"/>
<path d="M422.0,180.0 C433.0,179.6 469.4,178.6 488.0,177.5 C506.6,176.4 515.5,174.6 533.8,173.5 C552.1,172.4 587.3,171.3 598.0,170.9" fill="none" stroke="#7ba6c4" stroke-width="1.4"/>
<path d="M422.0,191.0 C429.5,191.2 452.8,192.3 467.0,192.3 C481.2,192.3 485.2,192.1 507.0,191.0 C528.8,189.9 582.8,186.5 598.0,185.6" fill="none" stroke="#7ba6c4" stroke-width="1.4"/>
<path d="M422.0,199.0 C431.7,199.2 461.4,201.0 480.0,200.3 C498.6,199.6 514.1,196.1 533.8,195.0 C553.5,193.9 587.3,193.8 598.0,193.6" fill="none" stroke="#7ba6c4" stroke-width="1.4"/>
<path d="M422.0,207.0 C429.5,207.4 448.4,209.9 467.0,209.7 C485.6,209.5 512.0,207.0 533.8,205.7 C555.6,204.3 587.3,202.3 598.0,201.6" fill="none" stroke="#7ba6c4" stroke-width="1.4"/>
<path d="M422.0,215.0 C427.2,215.7 439.3,219.4 453.5,219.0 C467.7,218.6 489.1,213.4 507.0,212.3 C524.9,211.2 545.4,212.1 560.6,212.3 C575.8,212.5 591.8,213.5 598.0,213.7" fill="none" stroke="#7ba6c4" stroke-width="1.4"/>
<path d="M422.0,225.7 C428.6,226.4 445.2,229.9 461.6,229.7 C478.0,229.5 497.8,225.5 520.5,224.4 C543.2,223.3 585.1,223.2 598.0,223.0" fill="none" stroke="#7ba6c4" stroke-width="1.4"/>
<path d="M422.0,236.4 C431.7,236.6 463.5,236.7 480.3,237.8 C497.1,238.9 503.4,243.5 523.0,243.0 C542.6,242.5 585.5,236.3 598.0,235.0" fill="none" stroke="#7ba6c4" stroke-width="1.4"/>
<path d="M422.0,244.5 C431.7,244.7 451.0,245.8 480.3,245.8 C509.6,245.8 578.4,244.7 598.0,244.5" fill="none" stroke="#7ba6c4" stroke-width="1.4"/>
<path d="M422.0,251.0 C436.2,251.0 483.9,251.0 507.0,251.0 C530.1,251.0 545.4,251.0 560.6,251.0 C575.8,251.0 591.8,251.0 598.0,251.0" fill="none" stroke="#7ba6c4" stroke-width="1.4"/>
<path d="M422.0,260.5 C431.3,261.4 459.0,265.7 477.6,265.9 C496.2,266.1 513.7,262.1 533.8,261.9 C553.9,261.7 587.3,264.1 598.0,264.5" fill="none" stroke="#7ba6c4" stroke-width="1.4"/>
</g>
<ellipse cx="461.5" cy="178.9" rx="26.8" ry="10.7" fill="#f3d9c8" stroke="#e2b9a6" stroke-width="1" opacity="0.85"/>
<polyline points="446.8,177.4 447.4,177.3 447.9,177.0 448.5,176.5 449.0,175.9 449.6,175.3 450.2,174.7 450.7,174.1 451.3,173.6 451.8,173.3 452.4,173.2 452.9,173.3 453.5,173.6 454.1,174.1 454.6,174.7 455.2,175.3 455.7,175.9 456.3,176.5 456.9,177.0 457.4,177.3 458.0,177.4 458.5,177.3 459.1,177.0 459.6,176.5 460.2,175.9 460.8,175.3 461.3,174.7 461.9,174.1 462.4,173.6 463.0,173.3 463.6,173.2 464.1,173.3 464.7,173.6 465.2,174.1 465.8,174.7 466.3,175.3 466.9,175.9 467.5,176.5 468.0,177.0 468.6,177.3 469.1,177.4 469.7,177.3 470.2,177.0 470.8,176.5 471.4,175.9 471.9,175.3 472.5,174.7 473.0,174.1 473.6,173.6 474.2,173.3 474.7,173.2 475.3,173.3 475.8,173.6 476.4,174.1 476.9,174.7 477.5,175.3 478.1,175.9 478.6,176.5 479.2,177.0 479.7,177.3 480.3,177.4" fill="none" stroke="#c42232" stroke-width="3.0" stroke-linecap="round" stroke-linejoin="round"/>
<line x1="445.5" y1="183.7" x2="484.3" y2="183.7" stroke="#2f78b4" stroke-width="2.8"/>
<ellipse cx="554" cy="195.6" rx="22.8" ry="16.7" fill="#f3d9c8" stroke="#e2b9a6" stroke-width="1" opacity="0.85"/>
<line x1="533.8" y1="188.3" x2="571.3" y2="188.3" stroke="#2f78b4" stroke-width="2.8"/>
<polyline points="535.0,197.8 535.6,197.7 536.1,197.4 536.7,196.9 537.2,196.3 537.8,195.7 538.4,195.1 538.9,194.5 539.5,194.0 540.0,193.7 540.6,193.6 541.2,193.7 541.7,194.0 542.3,194.5 542.8,195.1 543.4,195.7 544.0,196.3 544.5,196.9 545.1,197.4 545.6,197.7 546.2,197.8 546.8,197.7 547.3,197.4 547.9,196.9 548.4,196.3 549.0,195.7 549.6,195.1 550.1,194.5 550.7,194.0 551.2,193.7 551.8,193.6 552.4,193.7 552.9,194.0 553.5,194.5 554.0,195.1 554.6,195.7 555.2,196.3 555.7,196.9 556.3,197.4 556.8,197.7 557.4,197.8 558.0,197.7 558.5,197.4 559.1,196.9 559.6,196.3 560.2,195.7 560.8,195.1 561.3,194.5 561.9,194.0 562.4,193.7 563.0,193.6 563.6,193.7 564.1,194.0 564.7,194.5 565.2,195.1 565.8,195.7 566.4,196.3 566.9,196.9 567.5,197.4 568.0,197.7 568.6,197.8" fill="none" stroke="#c42232" stroke-width="3.0" stroke-linecap="round" stroke-linejoin="round"/>
<polyline points="535.0,205.6 535.6,205.5 536.1,205.2 536.7,204.7 537.2,204.1 537.8,203.5 538.4,202.9 538.9,202.3 539.5,201.8 540.0,201.5 540.6,201.4 541.2,201.5 541.7,201.8 542.3,202.3 542.8,202.9 543.4,203.5 544.0,204.1 544.5,204.7 545.1,205.2 545.6,205.5 546.2,205.6 546.8,205.5 547.3,205.2 547.9,204.7 548.4,204.1 549.0,203.5 549.6,202.9 550.1,202.3 550.7,201.8 551.2,201.5 551.8,201.4 552.4,201.5 552.9,201.8 553.5,202.3 554.0,202.9 554.6,203.5 555.2,204.1 555.7,204.7 556.3,205.2 556.8,205.5 557.4,205.6 558.0,205.5 558.5,205.2 559.1,204.7 559.6,204.1 560.2,203.5 560.8,202.9 561.3,202.3 561.9,201.8 562.4,201.5 563.0,201.4 563.6,201.5 564.1,201.8 564.7,202.3 565.2,202.9 565.8,203.5 566.4,204.1 566.9,204.7 567.5,205.2 568.0,205.5 568.6,205.6" fill="none" stroke="#c42232" stroke-width="3.0" stroke-linecap="round" stroke-linejoin="round"/>
<ellipse cx="475.6" cy="231.8" rx="22" ry="10" fill="#f3d9c8" stroke="#e2b9a6" stroke-width="1" opacity="0.85"/>
<polyline points="458.9,230.5 459.5,230.4 460.0,230.1 460.6,229.6 461.1,229.0 461.7,228.4 462.2,227.8 462.8,227.2 463.4,226.7 463.9,226.4 464.5,226.3 465.0,226.4 465.6,226.7 466.1,227.2 466.7,227.8 467.2,228.4 467.8,229.0 468.4,229.6 468.9,230.1 469.5,230.4 470.0,230.5 470.6,230.4 471.1,230.1 471.7,229.6 472.3,229.0 472.8,228.4 473.4,227.8 473.9,227.2 474.5,226.7 475.0,226.4 475.6,226.3 476.2,226.4 476.7,226.7 477.3,227.2 477.8,227.8 478.4,228.4 478.9,229.0 479.5,229.6 480.1,230.1 480.6,230.4 481.2,230.5 481.7,230.4 482.3,230.1 482.8,229.6 483.4,229.0 483.9,228.4 484.5,227.8 485.1,227.2 485.6,226.7 486.2,226.4 486.7,226.3 487.3,226.4 487.8,226.7 488.4,227.2 489.0,227.8 489.5,228.4 490.1,229.0 490.6,229.6 491.2,230.1 491.7,230.4 492.3,230.5" fill="none" stroke="#c42232" stroke-width="3.0" stroke-linecap="round" stroke-linejoin="round"/>
<line x1="456.2" y1="235.6" x2="495" y2="235.6" stroke="#2f78b4" stroke-width="2.8"/>
<ellipse cx="544.6" cy="245" rx="21.4" ry="10" fill="#f3d9c8" stroke="#e2b9a6" stroke-width="1" opacity="0.85"/>
<line x1="525.8" y1="242.3" x2="563.3" y2="242.3" stroke="#2f78b4" stroke-width="2.8"/>
<polyline points="527.0,252.5 527.6,252.4 528.1,252.1 528.7,251.6 529.2,251.0 529.8,250.4 530.4,249.8 530.9,249.2 531.5,248.7 532.0,248.4 532.6,248.3 533.2,248.4 533.7,248.7 534.3,249.2 534.8,249.8 535.4,250.4 536.0,251.0 536.5,251.6 537.1,252.1 537.6,252.4 538.2,252.5 538.8,252.4 539.3,252.1 539.9,251.6 540.4,251.0 541.0,250.4 541.6,249.8 542.1,249.2 542.7,248.7 543.2,248.4 543.8,248.3 544.4,248.4 544.9,248.7 545.5,249.2 546.0,249.8 546.6,250.4 547.2,251.0 547.7,251.6 548.3,252.1 548.8,252.4 549.4,252.5 550.0,252.4 550.5,252.1 551.1,251.6 551.6,251.0 552.2,250.4 552.8,249.8 553.3,249.2 553.9,248.7 554.4,248.4 555.0,248.3 555.6,248.4 556.1,248.7 556.7,249.2 557.2,249.8 557.8,250.4 558.4,251.0 558.9,251.6 559.5,252.1 560.0,252.4 560.6,252.5" fill="none" stroke="#c42232" stroke-width="3.0" stroke-linecap="round" stroke-linejoin="round"/>
<text x="509.1" y="153.5" font-size="14" fill="#222" text-anchor="middle" font-weight="normal" >Crystallite reconstruction</text>
<circle cx="477.6" cy="266" r="1.7" fill="#111"/>
<line x1="477.6" y1="266" x2="471" y2="285" stroke="#333" stroke-width="0.8"/>
<polygon points="596,215.4 607,213.8 607,210.5 616,216 607,221.5 607,218.2 596,216.6" fill="url(#grayarr)"/>
<rect x="618" y="163" width="168.5" height="105.5" fill="url(#p4bg)" stroke="#a8b0b8" stroke-width="0.9"/>
<clipPath id="c4"><rect x="618" y="163" width="168.5" height="105.5"/></clipPath>
<g clip-path="url(#c4)">
<path d="M614.0,166.4 C620.9,166.4 641.7,166.7 655.5,166.6 C669.3,166.5 690.1,165.8 697.0,165.6" fill="none" stroke="#7fa9c9" stroke-width="1.35" stroke-linecap="round"/>
<path d="M713.6,168.1 C715.6,168.5 721.4,170.3 725.3,170.4 C729.2,170.6 735.1,169.2 737.0,169.0" fill="none" stroke="#7fa9c9" stroke-width="1.35" stroke-linecap="round"/>
<path d="M740.7,167.4 C744.8,167.4 757.1,167.3 765.3,167.5 C773.6,167.8 785.9,168.7 790.0,169.0" fill="none" stroke="#7fa9c9" stroke-width="1.35" stroke-linecap="round"/>
<path d="M614.0,176.6 C621.5,176.2 644.1,174.5 659.1,174.1 C674.1,173.6 696.7,173.9 704.2,173.9" fill="none" stroke="#7fa9c9" stroke-width="1.35" stroke-linecap="round"/>
<path d="M717.0,176.6 C720.8,176.9 732.1,178.8 739.7,178.3 C747.2,177.9 758.6,174.5 762.3,173.7" fill="none" stroke="#7fa9c9" stroke-width="1.35" stroke-linecap="round"/>
<path d="M765.8,175.4 C767.8,175.5 773.8,175.4 777.9,175.9 C781.9,176.3 788.0,177.7 790.0,178.1" fill="none" stroke="#7fa9c9" stroke-width="1.35" stroke-linecap="round"/>
<path d="M614.0,187.6 C616.0,187.3 621.9,186.3 625.9,185.7 C629.8,185.0 635.8,184.0 637.8,183.7" fill="none" stroke="#7fa9c9" stroke-width="1.35" stroke-linecap="round"/>
<path d="M643.5,187.1 C647.9,187.1 661.2,187.2 670.1,187.2 C679.0,187.1 692.3,186.8 696.7,186.8" fill="none" stroke="#7fa9c9" stroke-width="1.35" stroke-linecap="round"/>
<path d="M709.8,186.4 C713.8,186.4 725.6,186.5 733.5,186.2 C741.4,185.9 753.2,184.9 757.1,184.7" fill="none" stroke="#7fa9c9" stroke-width="1.35" stroke-linecap="round"/>
<path d="M762.6,185.8 C764.9,186.1 771.8,187.3 776.3,187.5 C780.9,187.7 787.7,187.0 790.0,186.9" fill="none" stroke="#7fa9c9" stroke-width="1.35" stroke-linecap="round"/>
<path d="M614.0,192.7 C619.3,192.8 635.0,193.1 645.5,193.3 C656.0,193.4 671.8,193.6 677.1,193.6" fill="none" stroke="#7fa9c9" stroke-width="1.35" stroke-linecap="round"/>
<path d="M695.2,195.2 C699.9,195.6 713.9,197.6 723.2,197.5 C732.5,197.3 746.5,194.8 751.2,194.3" fill="none" stroke="#7fa9c9" stroke-width="1.35" stroke-linecap="round"/>
<path d="M756.8,193.5 C759.5,193.4 767.8,192.9 773.4,193.1 C778.9,193.2 787.2,194.0 790.0,194.2" fill="none" stroke="#7fa9c9" stroke-width="1.35" stroke-linecap="round"/>
<path d="M614.0,203.6 C616.4,203.2 623.4,201.5 628.1,201.1 C632.8,200.7 639.9,201.3 642.3,201.4" fill="none" stroke="#7fa9c9" stroke-width="1.35" stroke-linecap="round"/>
<path d="M645.5,203.7 C647.9,203.9 655.4,204.7 660.3,204.7 C665.3,204.7 672.7,203.8 675.2,203.6" fill="none" stroke="#7fa9c9" stroke-width="1.35" stroke-linecap="round"/>
<path d="M695.3,200.5 C699.7,200.8 712.6,201.3 721.2,201.9 C729.9,202.4 742.8,203.6 747.1,203.9" fill="none" stroke="#7fa9c9" stroke-width="1.35" stroke-linecap="round"/>
<path d="M751.2,203.6 C754.4,203.3 764.1,201.3 770.6,201.5 C777.1,201.6 786.8,204.2 790.0,204.7" fill="none" stroke="#7fa9c9" stroke-width="1.35" stroke-linecap="round"/>
<path d="M614.0,210.8 C620.6,210.6 640.4,209.6 653.6,209.8 C666.8,210.0 686.6,211.7 693.2,212.1" fill="none" stroke="#7fa9c9" stroke-width="1.35" stroke-linecap="round"/>
<path d="M711.0,212.5 C717.5,212.5 737.3,212.3 750.5,212.2 C763.7,212.1 783.4,212.0 790.0,211.9" fill="none" stroke="#7fa9c9" stroke-width="1.35" stroke-linecap="round"/>
<path d="M614.0,218.9 C618.4,219.0 631.6,219.0 640.4,219.8 C649.2,220.5 662.5,222.6 666.9,223.2" fill="none" stroke="#7fa9c9" stroke-width="1.35" stroke-linecap="round"/>
<path d="M673.6,221.8 C677.6,221.3 689.5,219.1 697.4,218.9 C705.3,218.7 717.2,220.4 721.1,220.7" fill="none" stroke="#7fa9c9" stroke-width="1.35" stroke-linecap="round"/>
<path d="M735.2,221.8 C739.8,222.0 753.5,223.5 762.6,223.1 C771.7,222.6 785.4,219.6 790.0,218.9" fill="none" stroke="#7fa9c9" stroke-width="1.35" stroke-linecap="round"/>
<path d="M614.0,228.7 C617.6,229.1 628.3,230.7 635.4,231.0 C642.6,231.3 653.3,230.4 656.9,230.3" fill="none" stroke="#7fa9c9" stroke-width="1.35" stroke-linecap="round"/>
<path d="M663.2,227.9 C666.5,228.0 676.6,228.6 683.3,228.9 C690.0,229.1 700.1,229.4 703.4,229.6" fill="none" stroke="#7fa9c9" stroke-width="1.35" stroke-linecap="round"/>
<path d="M725.2,228.7 C728.2,229.0 737.5,230.2 743.7,230.5 C749.8,230.7 759.1,230.2 762.2,230.1" fill="none" stroke="#7fa9c9" stroke-width="1.35" stroke-linecap="round"/>
<path d="M766.2,229.1 C768.2,229.1 774.1,229.0 778.1,229.1 C782.1,229.3 788.0,229.8 790.0,230.0" fill="none" stroke="#7fa9c9" stroke-width="1.35" stroke-linecap="round"/>
<path d="M614.0,242.2 C619.9,242.0 637.8,241.0 649.7,240.9 C661.5,240.8 679.4,241.4 685.3,241.5" fill="none" stroke="#7fa9c9" stroke-width="1.35" stroke-linecap="round"/>
<path d="M702.2,240.9 C707.1,240.7 721.7,240.1 731.4,239.7 C741.1,239.4 755.7,238.8 760.6,238.6" fill="none" stroke="#7fa9c9" stroke-width="1.35" stroke-linecap="round"/>
<path d="M766.6,241.0 C768.5,241.0 774.4,241.8 778.3,241.2 C782.2,240.6 788.0,238.1 790.0,237.5" fill="none" stroke="#7fa9c9" stroke-width="1.35" stroke-linecap="round"/>
<path d="M614.0,246.6 C616.1,246.7 622.3,246.8 626.4,247.1 C630.6,247.4 636.8,248.2 638.9,248.5" fill="none" stroke="#7fa9c9" stroke-width="1.35" stroke-linecap="round"/>
<path d="M642.6,249.0 C645.5,249.1 654.2,249.9 660.0,249.7 C665.8,249.5 674.5,248.3 677.4,248.0" fill="none" stroke="#7fa9c9" stroke-width="1.35" stroke-linecap="round"/>
<path d="M693.3,249.9 C698.7,249.9 715.0,250.2 725.9,249.9 C736.8,249.6 753.1,248.4 758.5,248.1" fill="none" stroke="#7fa9c9" stroke-width="1.35" stroke-linecap="round"/>
<path d="M764.0,249.5 C766.2,249.2 772.7,248.0 777.0,248.1 C781.3,248.1 787.8,249.5 790.0,249.8" fill="none" stroke="#7fa9c9" stroke-width="1.35" stroke-linecap="round"/>
<path d="M614.0,259.5 C618.8,258.9 633.1,256.7 642.7,256.1 C652.3,255.4 666.6,255.7 671.4,255.6" fill="none" stroke="#7fa9c9" stroke-width="1.35" stroke-linecap="round"/>
<path d="M687.2,260.1 C691.5,259.5 704.4,256.7 713.0,256.3 C721.5,255.9 734.4,257.4 738.7,257.6" fill="none" stroke="#7fa9c9" stroke-width="1.35" stroke-linecap="round"/>
<path d="M745.1,260.2 C748.9,260.2 760.1,260.0 767.6,259.9 C775.0,259.8 786.3,259.7 790.0,259.6" fill="none" stroke="#7fa9c9" stroke-width="1.35" stroke-linecap="round"/>
<path d="M614.0,265.5 C616.2,265.4 622.7,265.3 627.1,264.8 C631.4,264.3 637.9,262.8 640.1,262.4" fill="none" stroke="#7fa9c9" stroke-width="1.35" stroke-linecap="round"/>
<path d="M644.7,262.4 C647.4,262.6 655.5,263.2 660.9,263.8 C666.2,264.3 674.3,265.6 677.0,266.0" fill="none" stroke="#7fa9c9" stroke-width="1.35" stroke-linecap="round"/>
<path d="M690.6,265.9 C695.7,265.6 711.0,264.4 721.2,264.0 C731.4,263.6 746.6,263.5 751.7,263.4" fill="none" stroke="#7fa9c9" stroke-width="1.35" stroke-linecap="round"/>
<path d="M757.5,263.8 C760.2,264.1 768.3,265.7 773.7,265.5 C779.2,265.4 787.3,263.3 790.0,262.9" fill="none" stroke="#7fa9c9" stroke-width="1.35" stroke-linecap="round"/>
<filter id="crackblur" x="-50%" y="-10%" width="200%" height="120%"><feGaussianBlur stdDeviation="1.3"/></filter>
<polyline points="699,161 715,180.2 682,196.2 685.3,202.6 704.4,212.2 730,221.7 706.5,234.5 687.4,245.2 681,253.7 685.3,270" fill="none" stroke="#ffffff" stroke-width="5" stroke-linejoin="round" filter="url(#crackblur)"/>
<polyline points="699,161 715,180.2 682,196.2 685.3,202.6 704.4,212.2 730,221.7 706.5,234.5 687.4,245.2 681,253.7 685.3,270" fill="none" stroke="#ffffff" stroke-width="2.2" stroke-linejoin="miter"/>
</g>
<ellipse cx="654" cy="178.8" rx="27" ry="10" fill="#f3d9c8" stroke="#e2b9a6" stroke-width="1" opacity="0.85"/>
<polyline points="639.2,178.0 639.8,177.9 640.3,177.6 640.9,177.1 641.4,176.5 642.0,175.9 642.6,175.3 643.1,174.7 643.7,174.2 644.3,173.9 644.8,173.8 645.4,173.9 645.9,174.2 646.5,174.7 647.1,175.3 647.6,175.9 648.2,176.5 648.7,177.1 649.3,177.6 649.9,177.9 650.4,178.0 651.0,177.9 651.6,177.6 652.1,177.1 652.7,176.5 653.2,175.9 653.8,175.3 654.4,174.7 654.9,174.2 655.5,173.9 656.0,173.8 656.6,173.9 657.2,174.2 657.7,174.7 658.3,175.3 658.9,175.9 659.4,176.5 660.0,177.1 660.5,177.6 661.1,177.9 661.7,178.0 662.2,177.9 662.8,177.6 663.4,177.1 663.9,176.5 664.5,175.9 665.0,175.3 665.6,174.7 666.2,174.2 666.7,173.9 667.3,173.8 667.8,173.9 668.4,174.2 669.0,174.7 669.5,175.3 670.1,175.9 670.7,176.5 671.2,177.1 671.8,177.6 672.3,177.9 672.9,178.0" fill="none" stroke="#c42232" stroke-width="3.0" stroke-linecap="round" stroke-linejoin="round"/>
<line x1="637.8" y1="184" x2="675.6" y2="184" stroke="#2f78b4" stroke-width="2.8"/>
<ellipse cx="741" cy="195" rx="26.3" ry="16.9" fill="#f3d9c8" stroke="#e2b9a6" stroke-width="1" opacity="0.85"/>
<line x1="725.6" y1="188" x2="763.4" y2="188" stroke="#2f78b4" stroke-width="2.8"/>
<polyline points="728.3,197.7 728.8,197.6 729.4,197.3 729.9,196.8 730.5,196.2 731.0,195.6 731.5,195.0 732.1,194.4 732.6,193.9 733.2,193.6 733.7,193.5 734.2,193.6 734.8,193.9 735.3,194.4 735.9,195.0 736.4,195.6 736.9,196.2 737.5,196.8 738.0,197.3 738.6,197.6 739.1,197.7 739.6,197.6 740.2,197.3 740.7,196.8 741.3,196.2 741.8,195.6 742.3,195.0 742.9,194.4 743.4,193.9 744.0,193.6 744.5,193.5 745.0,193.6 745.6,193.9 746.1,194.4 746.7,195.0 747.2,195.6 747.7,196.2 748.3,196.8 748.8,197.3 749.4,197.6 749.9,197.7 750.4,197.6 751.0,197.3 751.5,196.8 752.1,196.2 752.6,195.6 753.1,195.0 753.7,194.4 754.2,193.9 754.8,193.6 755.3,193.5 755.8,193.6 756.4,193.9 756.9,194.4 757.5,195.0 758.0,195.6 758.5,196.2 759.1,196.8 759.6,197.3 760.2,197.6 760.7,197.7" fill="none" stroke="#c42232" stroke-width="3.0" stroke-linecap="round" stroke-linejoin="round"/>
<polyline points="728.3,205.0 728.8,204.9 729.4,204.6 729.9,204.1 730.5,203.5 731.0,202.9 731.5,202.3 732.1,201.7 732.6,201.2 733.2,200.9 733.7,200.8 734.2,200.9 734.8,201.2 735.3,201.7 735.9,202.3 736.4,202.9 736.9,203.5 737.5,204.1 738.0,204.6 738.6,204.9 739.1,205.0 739.6,204.9 740.2,204.6 740.7,204.1 741.3,203.5 741.8,202.9 742.3,202.3 742.9,201.7 743.4,201.2 744.0,200.9 744.5,200.8 745.0,200.9 745.6,201.2 746.1,201.7 746.7,202.3 747.2,202.9 747.7,203.5 748.3,204.1 748.8,204.6 749.4,204.9 749.9,205.0 750.4,204.9 751.0,204.6 751.5,204.1 752.1,203.5 752.6,202.9 753.1,202.3 753.7,201.7 754.2,201.2 754.8,200.9 755.3,200.8 755.8,200.9 756.4,201.2 756.9,201.7 757.5,202.3 758.0,202.9 758.5,203.5 759.1,204.1 759.6,204.6 760.2,204.9 760.7,205.0" fill="none" stroke="#c42232" stroke-width="3.0" stroke-linecap="round" stroke-linejoin="round"/>
<ellipse cx="664" cy="231.5" rx="26.3" ry="11.5" fill="#f3d9c8" stroke="#e2b9a6" stroke-width="1" opacity="0.85"/>
<polyline points="650.0,231.5 650.6,231.4 651.2,231.1 651.8,230.6 652.3,230.0 652.9,229.4 653.5,228.8 654.1,228.2 654.7,227.7 655.2,227.4 655.8,227.3 656.4,227.4 657.0,227.7 657.6,228.2 658.2,228.8 658.8,229.4 659.3,230.0 659.9,230.6 660.5,231.1 661.1,231.4 661.7,231.5 662.2,231.4 662.8,231.1 663.4,230.6 664.0,230.0 664.6,229.4 665.2,228.8 665.8,228.2 666.3,227.7 666.9,227.4 667.5,227.3 668.1,227.4 668.7,227.7 669.2,228.2 669.8,228.8 670.4,229.4 671.0,230.0 671.6,230.6 672.2,231.1 672.8,231.4 673.3,231.5 673.9,231.4 674.5,231.1 675.1,230.6 675.7,230.0 676.2,229.4 676.8,228.8 677.4,228.2 678.0,227.7 678.6,227.4 679.2,227.3 679.8,227.4 680.3,227.7 680.9,228.2 681.5,228.8 682.1,229.4 682.7,230.0 683.2,230.6 683.8,231.1 684.4,231.4 685.0,231.5" fill="none" stroke="#c42232" stroke-width="3.0" stroke-linecap="round" stroke-linejoin="round"/>
<line x1="648.6" y1="235.3" x2="687.8" y2="235.3" stroke="#2f78b4" stroke-width="2.8"/>
<ellipse cx="739" cy="245" rx="24.3" ry="12.8" fill="#f3d9c8" stroke="#e2b9a6" stroke-width="1" opacity="0.85"/>
<line x1="717.5" y1="242.9" x2="755.3" y2="242.9" stroke="#2f78b4" stroke-width="2.8"/>
<polyline points="718.8,252.5 719.4,252.4 719.9,252.1 720.5,251.6 721.1,251.0 721.6,250.4 722.2,249.8 722.7,249.2 723.3,248.7 723.9,248.4 724.4,248.3 725.0,248.4 725.6,248.7 726.1,249.2 726.7,249.8 727.2,250.4 727.8,251.0 728.4,251.6 728.9,252.1 729.5,252.4 730.1,252.5 730.6,252.4 731.2,252.1 731.8,251.6 732.3,251.0 732.9,250.4 733.4,249.8 734.0,249.2 734.6,248.7 735.1,248.4 735.7,248.3 736.3,248.4 736.8,248.7 737.4,249.2 738.0,249.8 738.5,250.4 739.1,251.0 739.6,251.6 740.2,252.1 740.8,252.4 741.3,252.5 741.9,252.4 742.5,252.1 743.0,251.6 743.6,251.0 744.1,250.4 744.7,249.8 745.3,249.2 745.8,248.7 746.4,248.4 747.0,248.3 747.5,248.4 748.1,248.7 748.7,249.2 749.2,249.8 749.8,250.4 750.3,251.0 750.9,251.6 751.5,252.1 752.0,252.4 752.6,252.5" fill="none" stroke="#c42232" stroke-width="3.0" stroke-linecap="round" stroke-linejoin="round"/>
<text x="702.5" y="160" font-size="13.9" fill="#222" text-anchor="middle" font-weight="normal" >Polymer chain fracture</text>
<circle cx="681" cy="255" r="1.7" fill="#111"/>
<line x1="681" y1="255" x2="681" y2="287" stroke="#333" stroke-width="0.8"/>
<text x="694.3" y="299" font-size="14" fill="#222" text-anchor="middle" font-weight="normal" >Covalent bond breakage</text>
<line x1="36.5" y1="310.5" x2="787.7" y2="310.5" stroke="#b0b0b0" stroke-width="1" stroke-dasharray="2.5,2.5"/>
<text x="37" y="345" font-size="15.6" fill="#2a2a2a" text-anchor="start" font-weight="bold" >Rearrangement of:</text>
<rect x="193" y="322.5" width="142" height="32.5" rx="7" fill="#d5def2"/>
<text x="264.0" y="345" font-size="15.6" fill="#2a2a2a" text-anchor="middle" font-weight="bold" >Fiber structure</text>
<rect x="350" y="322.5" width="187.5" height="32.5" rx="7" fill="#ead3e6"/>
<text x="443.75" y="345" font-size="15.6" fill="#2a2a2a" text-anchor="middle" font-weight="bold" >Crystallite structure</text>
<rect x="551.5" y="322.5" width="236.20000000000005" height="32.5" rx="7" fill="#f3ded3"/>
<text x="669.6" y="345" font-size="15.6" fill="#2a2a2a" text-anchor="middle" font-weight="bold" >Supramolecular structure</text>
<text x="8.5" y="392.4" font-size="26.5" fill="#111" text-anchor="start" font-weight="normal" >b</text>
<rect x="44" y="401" width="174.5" height="138.5" fill="none" stroke="#3a3a3a" stroke-width="1"/>
<line x1="44" y1="539.5" x2="47" y2="539.5" stroke="#3a3a3a" stroke-width="0.8"/>
<line x1="44" y1="529.6" x2="45.8" y2="529.6" stroke="#3a3a3a" stroke-width="0.7"/>
<text x="40" y="543.9" font-size="12.5" fill="#333" text-anchor="end" font-weight="normal" >0</text>
<line x1="44" y1="519.8" x2="47" y2="519.8" stroke="#3a3a3a" stroke-width="0.8"/>
<line x1="44" y1="509.9" x2="45.8" y2="509.9" stroke="#3a3a3a" stroke-width="0.7"/>
<text x="40" y="524.1714285714286" font-size="12.5" fill="#333" text-anchor="end" font-weight="normal" >5</text>
<line x1="44" y1="500.0" x2="47" y2="500.0" stroke="#3a3a3a" stroke-width="0.8"/>
<line x1="44" y1="490.2" x2="45.8" y2="490.2" stroke="#3a3a3a" stroke-width="0.7"/>
<text x="40" y="504.4428571428571" font-size="12.5" fill="#333" text-anchor="end" font-weight="normal" >10</text>
<line x1="44" y1="480.3" x2="47" y2="480.3" stroke="#3a3a3a" stroke-width="0.8"/>
<line x1="44" y1="470.4" x2="45.8" y2="470.4" stroke="#3a3a3a" stroke-width="0.7"/>
<text x="40" y="484.71428571428567" font-size="12.5" fill="#333" text-anchor="end" font-weight="normal" >15</text>
<line x1="44" y1="460.6" x2="47" y2="460.6" stroke="#3a3a3a" stroke-width="0.8"/>
<line x1="44" y1="450.7" x2="45.8" y2="450.7" stroke="#3a3a3a" stroke-width="0.7"/>
<text x="40" y="464.98571428571427" font-size="12.5" fill="#333" text-anchor="end" font-weight="normal" >20</text>
<line x1="44" y1="440.9" x2="47" y2="440.9" stroke="#3a3a3a" stroke-width="0.8"/>
<line x1="44" y1="431.0" x2="45.8" y2="431.0" stroke="#3a3a3a" stroke-width="0.7"/>
<text x="40" y="445.2571428571428" font-size="12.5" fill="#333" text-anchor="end" font-weight="normal" >25</text>
<line x1="44" y1="421.1" x2="47" y2="421.1" stroke="#3a3a3a" stroke-width="0.8"/>
<line x1="44" y1="411.3" x2="45.8" y2="411.3" stroke="#3a3a3a" stroke-width="0.7"/>
<text x="40" y="425.5285714285714" font-size="12.5" fill="#333" text-anchor="end" font-weight="normal" >30</text>
<line x1="44" y1="401.4" x2="47" y2="401.4" stroke="#3a3a3a" stroke-width="0.8"/>
<text x="40" y="405.79999999999995" font-size="12.5" fill="#333" text-anchor="end" font-weight="normal" >35</text>
<line x1="43.8" y1="539.5" x2="43.8" y2="536.5" stroke="#3a3a3a" stroke-width="0.8"/>
<text x="43.8" y="554.5" font-size="12.5" fill="#333" text-anchor="middle" font-weight="normal" >0</text>
<line x1="85.3" y1="539.5" x2="85.3" y2="536.5" stroke="#3a3a3a" stroke-width="0.8"/>
<text x="85.3" y="554.5" font-size="12.5" fill="#333" text-anchor="middle" font-weight="normal" >200</text>
<line x1="126.8" y1="539.5" x2="126.8" y2="536.5" stroke="#3a3a3a" stroke-width="0.8"/>
<text x="126.8" y="554.5" font-size="12.5" fill="#333" text-anchor="middle" font-weight="normal" >400</text>
<line x1="168.3" y1="539.5" x2="168.3" y2="536.5" stroke="#3a3a3a" stroke-width="0.8"/>
<text x="168.3" y="554.5" font-size="12.5" fill="#333" text-anchor="middle" font-weight="normal" >600</text>
<line x1="209.8" y1="539.5" x2="209.8" y2="536.5" stroke="#3a3a3a" stroke-width="0.8"/>
<text x="209.8" y="554.5" font-size="12.5" fill="#333" text-anchor="middle" font-weight="normal" >800</text>
<line x1="64.5" y1="539.5" x2="64.5" y2="537.7" stroke="#3a3a3a" stroke-width="0.7"/>
<line x1="106.0" y1="539.5" x2="106.0" y2="537.7" stroke="#3a3a3a" stroke-width="0.7"/>
<line x1="147.6" y1="539.5" x2="147.6" y2="537.7" stroke="#3a3a3a" stroke-width="0.7"/>
<line x1="189.1" y1="539.5" x2="189.1" y2="537.7" stroke="#3a3a3a" stroke-width="0.7"/>
<text x="130.5" y="569" font-size="12" fill="#333" text-anchor="middle" font-weight="normal" >Strain (%)</text>
<text x="0" y="0" font-size="11.5" fill="#333" text-anchor="middle" font-weight="normal" transform="translate(19.5,467) rotate(-90)">Stress (MPa)</text>
<rect x="110.8" y="496.3" width="37" height="39.6" fill="#242424"/>
<rect x="110.8" y="511.6" width="37" height="2" fill="#3c3c3c"/>
<rect x="124" y="511" width="11.7" height="9" fill="#7c7c7c"/>
<rect x="110.8" y="522" width="37" height="13.9" fill="#767676"/>
<rect x="119.4" y="529.1" width="2.8" height="1.7" fill="#8a8a8a"/>
<rect x="131.7" y="529.9" width="1.5" height="1.4" fill="#4e4e4e"/>
<rect x="146.6" y="528.1" width="1.8" height="2.3" fill="#4e4e4e"/>
<rect x="119.1" y="524.0" width="2.5" height="2.0" fill="#4e4e4e"/>
<rect x="113.1" y="531.9" width="1.6" height="1.0" fill="#5a5a5a"/>
<rect x="142.0" y="528.1" width="2.4" height="2.4" fill="#4e4e4e"/>
<rect x="125.0" y="532.4" width="2.9" height="1.2" fill="#4e4e4e"/>
<rect x="124.0" y="522.5" width="1.4" height="2.4" fill="#4e4e4e"/>
<rect x="126.5" y="530.1" width="1.8" height="2.3" fill="#8a8a8a"/>
<rect x="131.5" y="528.9" width="2.2" height="2.4" fill="#4e4e4e"/>
<rect x="135.4" y="534.1" width="3.0" height="2.0" fill="#8a8a8a"/>
<rect x="116.7" y="533.2" width="2.4" height="1.3" fill="#5a5a5a"/>
<rect x="140.7" y="529.5" width="1.2" height="1.7" fill="#8a8a8a"/>
<rect x="133.8" y="528.3" width="2.6" height="1.6" fill="#8a8a8a"/>
<rect x="116.2" y="525.8" width="2.7" height="1.1" fill="#4e4e4e"/>
<rect x="132.9" y="522.6" width="2.1" height="2.4" fill="#8a8a8a"/>
<rect x="120.8" y="525.1" width="1.6" height="1.1" fill="#5a5a5a"/>
<rect x="132.4" y="522.4" width="2.9" height="1.4" fill="#9a9a9a"/>
<rect x="120.3" y="531.0" width="1.6" height="2.4" fill="#8a8a8a"/>
<rect x="143.1" y="526.9" width="2.7" height="1.6" fill="#4e4e4e"/>
<rect x="142.0" y="530.9" width="2.2" height="2.4" fill="#5a5a5a"/>
<rect x="129.1" y="527.6" width="2.9" height="1.7" fill="#9a9a9a"/>
<rect x="120.1" y="525.9" width="1.0" height="1.6" fill="#8a8a8a"/>
<rect x="131.7" y="522.3" width="1.1" height="1.9" fill="#9a9a9a"/>
<rect x="127.6" y="530.8" width="2.2" height="1.4" fill="#8a8a8a"/>
<rect x="128.4" y="529.7" width="2.9" height="1.4" fill="#5a5a5a"/>
<rect x="127.2" y="529.7" width="1.4" height="1.3" fill="#8a8a8a"/>
<rect x="138.1" y="533.0" width="1.6" height="1.6" fill="#8a8a8a"/>
<rect x="138.6" y="522.3" width="1.6" height="1.3" fill="#9a9a9a"/>
<rect x="139.7" y="525.1" width="2.4" height="2.0" fill="#9a9a9a"/>
<rect x="114.3" y="529.8" width="2.3" height="1.3" fill="#8a8a8a"/>
<rect x="140.0" y="534.5" width="1.7" height="2.0" fill="#5a5a5a"/>
<rect x="142.7" y="527.9" width="2.6" height="1.1" fill="#9a9a9a"/>
<rect x="145.3" y="526.1" width="2.7" height="1.5" fill="#9a9a9a"/>
<rect x="140.6" y="523.1" width="2.2" height="1.6" fill="#8a8a8a"/>
<rect x="129.5" y="533.0" width="1.7" height="1.6" fill="#4e4e4e"/>
<rect x="125.9" y="527.3" width="1.3" height="1.0" fill="#4e4e4e"/>
<rect x="144.8" y="533.4" width="2.1" height="2.5" fill="#4e4e4e"/>
<rect x="136.6" y="522.4" width="2.7" height="2.0" fill="#4e4e4e"/>
<rect x="129.5" y="525.8" width="2.8" height="2.3" fill="#8a8a8a"/>
<rect x="141.7" y="534.6" width="2.6" height="1.1" fill="#5a5a5a"/>
<rect x="143.3" y="531.0" width="2.8" height="2.3" fill="#9a9a9a"/>
<rect x="131.6" y="522.2" width="1.3" height="1.4" fill="#5a5a5a"/>
<rect x="134.7" y="528.8" width="1.1" height="2.4" fill="#4e4e4e"/>
<rect x="114.9" y="523.6" width="2.6" height="1.1" fill="#4e4e4e"/>
<rect x="118.7" y="523.6" width="1.3" height="2.2" fill="#5a5a5a"/>
<rect x="144.0" y="532.5" width="2.0" height="1.9" fill="#5a5a5a"/>
<rect x="125.2" y="531.8" width="1.5" height="1.8" fill="#9a9a9a"/>
<rect x="126.0" y="528.1" width="2.7" height="2.2" fill="#5a5a5a"/>
<rect x="112.5" y="522.6" width="2.9" height="2.3" fill="#4e4e4e"/>
<rect x="113.9" y="528.5" width="1.3" height="1.1" fill="#8a8a8a"/>
<rect x="124.7" y="527.1" width="1.7" height="1.3" fill="#8a8a8a"/>
<rect x="122.6" y="523.6" width="2.4" height="1.6" fill="#5a5a5a"/>
<rect x="113.7" y="524.3" width="1.9" height="2.0" fill="#8a8a8a"/>
<rect x="130.3" y="530.3" width="2.2" height="1.6" fill="#5a5a5a"/>
<rect x="124.2" y="528.4" width="1.8" height="2.0" fill="#8a8a8a"/>
<rect x="127.4" y="525.2" width="2.4" height="1.1" fill="#8a8a8a"/>
<rect x="126.1" y="527.5" width="2.9" height="1.6" fill="#5a5a5a"/>
<rect x="143.1" y="532.3" width="1.2" height="2.0" fill="#8a8a8a"/>
<rect x="144.6" y="531.5" width="2.3" height="2.1" fill="#4e4e4e"/>
<rect x="157.4" y="450.2" width="37.1" height="86.3" fill="#1e1e1e"/>
<rect x="157.4" y="475" width="37.1" height="4.6" fill="#484848"/>
<rect x="157.4" y="492.4" width="37.1" height="3.9" fill="#484848"/>
<rect x="157.4" y="507.8" width="37.1" height="3.8" fill="#484848"/>
<rect x="157.4" y="516" width="37.1" height="3.3" fill="#484848"/>
<rect x="157.4" y="524.4" width="37.1" height="12.1" fill="#404040"/>
<path d="M169.6,463 L180.4,463 Q178.5,477 178.5,491 Q178.5,510 179.8,524 L170.2,524 Q171.5,510 171.5,491 Q171.5,477 169.6,463 Z" fill="#e2dfd7"/>
<text x="129" y="493.7" font-size="12" fill="#333" text-anchor="middle" font-weight="normal" >original</text>
<text x="176.7" y="447.8" font-size="11.5" fill="#333" text-anchor="middle" font-weight="normal" >ε = 600%</text>
<path d="M44.4,539.5 C45.3,538.6 47.1,536.5 50.0,534.0 C52.9,531.5 56.3,528.8 61.9,524.2 C67.5,519.7 76.5,513.3 83.8,506.7 C91.1,500.1 98.4,492.1 105.7,484.8 C113.0,477.5 120.3,469.5 127.6,462.9 C134.9,456.3 142.2,451.0 149.5,445.4 C156.8,439.8 165.5,433.1 171.4,429.0 C177.3,424.9 181.2,422.8 185.0,420.5 C188.8,418.2 192.5,413.5 194.4,415.1 C196.3,416.7 196.0,427.0 196.6,430.0 C197.2,433.0 197.3,431.8 198.0,433.3 C198.7,434.8 200.2,436.1 201.0,438.8 C201.8,441.5 202.8,439.1 203.1,449.7 C203.4,460.3 203.1,493.5 203.1,502.3" fill="none" stroke="#e05a62" stroke-width="1.9" stroke-linejoin="round"/>
<line x1="47.6" y1="413" x2="78.3" y2="413" stroke="#e05a62" stroke-width="2"/>
<text x="84" y="418.3" font-size="11.5" fill="#333" text-anchor="start" font-weight="normal" >UTBNM</text>
<text x="227" y="392.2" font-size="27" fill="#111" text-anchor="start" font-weight="normal" >c</text>
<text x="334.7" y="392.2" font-size="15.7" fill="#222" text-anchor="middle" font-weight="normal" >Original</text>
<text x="508.6" y="392.8" font-size="15.9" fill="#222" text-anchor="middle" font-weight="normal" >ε = 200%</text>
<filter id="semblur" x="-5%" y="-5%" width="110%" height="110%"><feGaussianBlur stdDeviation="0.9"/></filter>
<clipPath id="sem1"><rect x="244" y="400.7" width="147.5" height="138"/></clipPath>
<rect x="244" y="400.7" width="147.5" height="138" fill="#4a4a4a"/>
<g clip-path="url(#sem1)"><g filter="url(#semblur)">
<path d="M604.8,451.4 C577.4,449.5 484.5,437.5 440.4,439.8 C396.3,442.1 362.9,450.5 340.2,465.2 C317.6,479.8 305.6,500.6 304.3,527.5 C303.0,554.5 312.4,587.6 332.5,626.9 C352.7,666.2 409.6,740.6 425.0,763.3" fill="none" stroke="#5a5a5a" stroke-width="11.1" stroke-linecap="round" opacity="0.6"/>
<path d="M604.8,451.4 C577.4,449.5 484.5,437.5 440.4,439.8 C396.3,442.1 362.9,450.5 340.2,465.2 C317.6,479.8 305.6,500.6 304.3,527.5 C303.0,554.5 312.4,587.6 332.5,626.9 C352.7,666.2 409.6,740.6 425.0,763.3" fill="none" stroke="#c4c4c4" stroke-width="9.1" stroke-linecap="round"/>
<path d="M604.8,451.4 C577.4,449.5 484.5,437.5 440.4,439.8 C396.3,442.1 362.9,450.5 340.2,465.2 C317.6,479.8 305.6,500.6 304.3,527.5 C303.0,554.5 312.4,587.6 332.5,626.9 C352.7,666.2 409.6,740.6 425.0,763.3" fill="none" stroke="#9a9a9a" stroke-width="5.6" stroke-linecap="round"/>
<path d="M379.1,235.6 C376.6,253.2 372.7,311.6 363.9,341.4 C355.1,371.2 342.7,395.6 326.5,414.5 C310.3,433.4 290.5,446.9 266.9,454.9 C243.3,462.9 216.1,465.5 185.1,462.6 C154.2,459.7 98.5,441.8 81.2,437.6" fill="none" stroke="#5a5a5a" stroke-width="14.6" stroke-linecap="round" opacity="0.6"/>
<path d="M379.1,235.6 C376.6,253.2 372.7,311.6 363.9,341.4 C355.1,371.2 342.7,395.6 326.5,414.5 C310.3,433.4 290.5,446.9 266.9,454.9 C243.3,462.9 216.1,465.5 185.1,462.6 C154.2,459.7 98.5,441.8 81.2,437.6" fill="none" stroke="#c4c4c4" stroke-width="12.6" stroke-linecap="round"/>
<path d="M379.1,235.6 C376.6,253.2 372.7,311.6 363.9,341.4 C355.1,371.2 342.7,395.6 326.5,414.5 C310.3,433.4 290.5,446.9 266.9,454.9 C243.3,462.9 216.1,465.5 185.1,462.6 C154.2,459.7 98.5,441.8 81.2,437.6" fill="none" stroke="#9a9a9a" stroke-width="9.1" stroke-linecap="round"/>
<path d="M182.2,378.1 C191.1,387.1 217.0,415.9 235.8,432.1 C254.6,448.3 274.4,462.6 295.0,475.0 C315.6,487.4 337.2,498.0 359.6,506.7 C382.1,515.5 405.4,522.3 429.7,527.3 C454.0,532.3 492.7,535.2 505.3,536.7" fill="none" stroke="#5a5a5a" stroke-width="12.0" stroke-linecap="round" opacity="0.6"/>
<path d="M182.2,378.1 C191.1,387.1 217.0,415.9 235.8,432.1 C254.6,448.3 274.4,462.6 295.0,475.0 C315.6,487.4 337.2,498.0 359.6,506.7 C382.1,515.5 405.4,522.3 429.7,527.3 C454.0,532.3 492.7,535.2 505.3,536.7" fill="none" stroke="#c4c4c4" stroke-width="10.0" stroke-linecap="round"/>
<path d="M182.2,378.1 C191.1,387.1 217.0,415.9 235.8,432.1 C254.6,448.3 274.4,462.6 295.0,475.0 C315.6,487.4 337.2,498.0 359.6,506.7 C382.1,515.5 405.4,522.3 429.7,527.3 C454.0,532.3 492.7,535.2 505.3,536.7" fill="none" stroke="#9a9a9a" stroke-width="6.5" stroke-linecap="round"/>
<path d="M678.3,544.3 C652.3,526.0 566.5,458.7 522.5,434.5 C478.6,410.3 442.5,398.5 414.4,399.0 C386.2,399.6 366.0,412.5 353.7,437.8 C341.4,463.1 337.0,500.8 340.6,550.9 C344.1,601.0 369.3,707.1 375.0,738.3" fill="none" stroke="#5a5a5a" stroke-width="15.1" stroke-linecap="round" opacity="0.6"/>
<path d="M678.3,544.3 C652.3,526.0 566.5,458.7 522.5,434.5 C478.6,410.3 442.5,398.5 414.4,399.0 C386.2,399.6 366.0,412.5 353.7,437.8 C341.4,463.1 337.0,500.8 340.6,550.9 C344.1,601.0 369.3,707.1 375.0,738.3" fill="none" stroke="#c4c4c4" stroke-width="13.1" stroke-linecap="round"/>
<path d="M678.3,544.3 C652.3,526.0 566.5,458.7 522.5,434.5 C478.6,410.3 442.5,398.5 414.4,399.0 C386.2,399.6 366.0,412.5 353.7,437.8 C341.4,463.1 337.0,500.8 340.6,550.9 C344.1,601.0 369.3,707.1 375.0,738.3" fill="none" stroke="#9a9a9a" stroke-width="9.6" stroke-linecap="round"/>
<path d="M600.5,645.8 C574.1,622.2 487.1,536.9 442.3,504.3 C397.4,471.8 360.5,453.9 331.5,450.7 C302.5,447.5 281.3,458.9 268.1,484.9 C254.9,511.0 249.6,551.6 252.2,607.0 C254.8,662.3 278.5,781.9 283.7,816.8" fill="none" stroke="#5a5a5a" stroke-width="11.4" stroke-linecap="round" opacity="0.6"/>
<path d="M600.5,645.8 C574.1,622.2 487.1,536.9 442.3,504.3 C397.4,471.8 360.5,453.9 331.5,450.7 C302.5,447.5 281.3,458.9 268.1,484.9 C254.9,511.0 249.6,551.6 252.2,607.0 C254.8,662.3 278.5,781.9 283.7,816.8" fill="none" stroke="#c4c4c4" stroke-width="9.4" stroke-linecap="round"/>
<path d="M600.5,645.8 C574.1,622.2 487.1,536.9 442.3,504.3 C397.4,471.8 360.5,453.9 331.5,450.7 C302.5,447.5 281.3,458.9 268.1,484.9 C254.9,511.0 249.6,551.6 252.2,607.0 C254.8,662.3 278.5,781.9 283.7,816.8" fill="none" stroke="#9a9a9a" stroke-width="5.9" stroke-linecap="round"/>
<path d="M117.7,723.3 C138.7,694.4 206.5,591.5 243.8,549.8 C281.0,508.1 313.6,482.6 341.3,473.2 C369.1,463.8 392.1,470.6 410.4,493.5 C428.7,516.4 442.2,555.5 451.0,610.7 C459.8,665.9 461.1,789.1 463.1,824.8" fill="none" stroke="#5a5a5a" stroke-width="16.7" stroke-linecap="round" opacity="0.6"/>
<path d="M117.7,723.3 C138.7,694.4 206.5,591.5 243.8,549.8 C281.0,508.1 313.6,482.6 341.3,473.2 C369.1,463.8 392.1,470.6 410.4,493.5 C428.7,516.4 442.2,555.5 451.0,610.7 C459.8,665.9 461.1,789.1 463.1,824.8" fill="none" stroke="#c4c4c4" stroke-width="14.7" stroke-linecap="round"/>
<path d="M117.7,723.3 C138.7,694.4 206.5,591.5 243.8,549.8 C281.0,508.1 313.6,482.6 341.3,473.2 C369.1,463.8 392.1,470.6 410.4,493.5 C428.7,516.4 442.2,555.5 451.0,610.7 C459.8,665.9 461.1,789.1 463.1,824.8" fill="none" stroke="#9a9a9a" stroke-width="11.2" stroke-linecap="round"/>
<path d="M146.6,274.6 C152.2,291.3 166.4,347.5 180.2,375.1 C194.1,402.7 210.6,424.4 229.8,440.2 C249.1,455.9 270.9,465.8 295.5,469.8 C320.0,473.8 347.2,471.8 377.1,464.0 C407.0,456.2 458.4,429.7 474.7,422.8" fill="none" stroke="#5a5a5a" stroke-width="14.7" stroke-linecap="round" opacity="0.6"/>
<path d="M146.6,274.6 C152.2,291.3 166.4,347.5 180.2,375.1 C194.1,402.7 210.6,424.4 229.8,440.2 C249.1,455.9 270.9,465.8 295.5,469.8 C320.0,473.8 347.2,471.8 377.1,464.0 C407.0,456.2 458.4,429.7 474.7,422.8" fill="none" stroke="#c4c4c4" stroke-width="12.7" stroke-linecap="round"/>
<path d="M146.6,274.6 C152.2,291.3 166.4,347.5 180.2,375.1 C194.1,402.7 210.6,424.4 229.8,440.2 C249.1,455.9 270.9,465.8 295.5,469.8 C320.0,473.8 347.2,471.8 377.1,464.0 C407.0,456.2 458.4,429.7 474.7,422.8" fill="none" stroke="#9a9a9a" stroke-width="9.2" stroke-linecap="round"/>
<path d="M124.8,258.0 C133.0,282.3 155.7,366.6 173.9,404.1 C192.1,441.6 212.2,467.9 234.0,483.0 C255.9,498.0 279.6,501.9 305.1,494.5 C330.6,487.2 358.0,468.6 387.1,438.8 C416.3,409.0 464.6,336.3 480.1,315.8" fill="none" stroke="#5a5a5a" stroke-width="15.9" stroke-linecap="round" opacity="0.6"/>
<path d="M124.8,258.0 C133.0,282.3 155.7,366.6 173.9,404.1 C192.1,441.6 212.2,467.9 234.0,483.0 C255.9,498.0 279.6,501.9 305.1,494.5 C330.6,487.2 358.0,468.6 387.1,438.8 C416.3,409.0 464.6,336.3 480.1,315.8" fill="none" stroke="#c4c4c4" stroke-width="13.9" stroke-linecap="round"/>
<path d="M124.8,258.0 C133.0,282.3 155.7,366.6 173.9,404.1 C192.1,441.6 212.2,467.9 234.0,483.0 C255.9,498.0 279.6,501.9 305.1,494.5 C330.6,487.2 358.0,468.6 387.1,438.8 C416.3,409.0 464.6,336.3 480.1,315.8" fill="none" stroke="#9a9a9a" stroke-width="10.4" stroke-linecap="round"/>
<path d="M371.1,291.4 C366.0,302.4 349.9,335.1 340.5,357.3 C331.1,379.5 322.4,401.9 314.5,424.6 C306.6,447.3 299.5,470.2 293.2,493.4 C286.8,516.5 281.2,539.9 276.4,563.5 C271.6,587.2 266.2,623.2 264.2,635.2" fill="none" stroke="#5a5a5a" stroke-width="13.3" stroke-linecap="round" opacity="0.6"/>
<path d="M371.1,291.4 C366.0,302.4 349.9,335.1 340.5,357.3 C331.1,379.5 322.4,401.9 314.5,424.6 C306.6,447.3 299.5,470.2 293.2,493.4 C286.8,516.5 281.2,539.9 276.4,563.5 C271.6,587.2 266.2,623.2 264.2,635.2" fill="none" stroke="#c4c4c4" stroke-width="11.3" stroke-linecap="round"/>
<path d="M371.1,291.4 C366.0,302.4 349.9,335.1 340.5,357.3 C331.1,379.5 322.4,401.9 314.5,424.6 C306.6,447.3 299.5,470.2 293.2,493.4 C286.8,516.5 281.2,539.9 276.4,563.5 C271.6,587.2 266.2,623.2 264.2,635.2" fill="none" stroke="#9a9a9a" stroke-width="7.8" stroke-linecap="round"/>
<path d="M396.1,175.8 C387.5,209.8 363.4,328.1 344.6,379.7 C325.8,431.3 305.3,466.5 283.1,485.3 C260.9,504.1 237.0,506.6 211.4,492.6 C185.9,478.7 158.7,448.4 129.7,401.7 C100.8,355.0 53.3,244.1 38.0,212.6" fill="none" stroke="#5a5a5a" stroke-width="15.0" stroke-linecap="round" opacity="0.6"/>
<path d="M396.1,175.8 C387.5,209.8 363.4,328.1 344.6,379.7 C325.8,431.3 305.3,466.5 283.1,485.3 C260.9,504.1 237.0,506.6 211.4,492.6 C185.9,478.7 158.7,448.4 129.7,401.7 C100.8,355.0 53.3,244.1 38.0,212.6" fill="none" stroke="#c4c4c4" stroke-width="13.0" stroke-linecap="round"/>
<path d="M396.1,175.8 C387.5,209.8 363.4,328.1 344.6,379.7 C325.8,431.3 305.3,466.5 283.1,485.3 C260.9,504.1 237.0,506.6 211.4,492.6 C185.9,478.7 158.7,448.4 129.7,401.7 C100.8,355.0 53.3,244.1 38.0,212.6" fill="none" stroke="#9a9a9a" stroke-width="9.5" stroke-linecap="round"/>
<path d="M304.9,238.9 C308.0,255.6 322.6,309.0 324.0,339.0 C325.4,369.0 321.8,395.6 313.3,418.8 C304.7,442.0 291.2,461.9 272.8,478.3 C254.3,494.8 230.9,507.9 202.5,517.6 C174.1,527.3 119.1,533.5 102.4,536.6" fill="none" stroke="#5a5a5a" stroke-width="11.7" stroke-linecap="round" opacity="0.6"/>
<path d="M304.9,238.9 C308.0,255.6 322.6,309.0 324.0,339.0 C325.4,369.0 321.8,395.6 313.3,418.8 C304.7,442.0 291.2,461.9 272.8,478.3 C254.3,494.8 230.9,507.9 202.5,517.6 C174.1,527.3 119.1,533.5 102.4,536.6" fill="none" stroke="#c4c4c4" stroke-width="9.7" stroke-linecap="round"/>
<path d="M304.9,238.9 C308.0,255.6 322.6,309.0 324.0,339.0 C325.4,369.0 321.8,395.6 313.3,418.8 C304.7,442.0 291.2,461.9 272.8,478.3 C254.3,494.8 230.9,507.9 202.5,517.6 C174.1,527.3 119.1,533.5 102.4,536.6" fill="none" stroke="#9a9a9a" stroke-width="6.2" stroke-linecap="round"/>
<path d="M84.4,264.1 C105.4,276.8 179.1,315.5 210.3,340.6 C241.6,365.8 262.2,390.5 272.0,414.9 C281.9,439.2 281.0,463.2 269.5,486.8 C257.9,510.4 235.6,533.7 202.6,556.5 C169.6,579.3 93.4,612.6 71.5,623.9" fill="none" stroke="#5a5a5a" stroke-width="14.0" stroke-linecap="round" opacity="0.6"/>
<path d="M84.4,264.1 C105.4,276.8 179.1,315.5 210.3,340.6 C241.6,365.8 262.2,390.5 272.0,414.9 C281.9,439.2 281.0,463.2 269.5,486.8 C257.9,510.4 235.6,533.7 202.6,556.5 C169.6,579.3 93.4,612.6 71.5,623.9" fill="none" stroke="#c4c4c4" stroke-width="12.0" stroke-linecap="round"/>
<path d="M84.4,264.1 C105.4,276.8 179.1,315.5 210.3,340.6 C241.6,365.8 262.2,390.5 272.0,414.9 C281.9,439.2 281.0,463.2 269.5,486.8 C257.9,510.4 235.6,533.7 202.6,556.5 C169.6,579.3 93.4,612.6 71.5,623.9" fill="none" stroke="#9a9a9a" stroke-width="8.5" stroke-linecap="round"/>
<path d="M197.0,341.5 C200.9,352.9 213.2,387.1 220.3,410.1 C227.5,433.1 234.0,456.2 239.8,479.5 C245.7,502.8 250.9,526.2 255.5,549.8 C260.1,573.3 264.0,597.0 267.3,620.9 C270.6,644.7 274.0,680.9 275.3,692.9" fill="none" stroke="#5a5a5a" stroke-width="12.3" stroke-linecap="round" opacity="0.6"/>
<path d="M197.0,341.5 C200.9,352.9 213.2,387.1 220.3,410.1 C227.5,433.1 234.0,456.2 239.8,479.5 C245.7,502.8 250.9,526.2 255.5,549.8 C260.1,573.3 264.0,597.0 267.3,620.9 C270.6,644.7 274.0,680.9 275.3,692.9" fill="none" stroke="#c4c4c4" stroke-width="10.3" stroke-linecap="round"/>
<path d="M197.0,341.5 C200.9,352.9 213.2,387.1 220.3,410.1 C227.5,433.1 234.0,456.2 239.8,479.5 C245.7,502.8 250.9,526.2 255.5,549.8 C260.1,573.3 264.0,597.0 267.3,620.9 C270.6,644.7 274.0,680.9 275.3,692.9" fill="none" stroke="#9a9a9a" stroke-width="6.8" stroke-linecap="round"/>
<path d="M612.1,530.5 C585.0,517.7 494.7,468.9 449.6,453.6 C404.4,438.2 368.3,433.3 341.1,438.7 C314.0,444.1 295.9,459.9 286.8,486.0 C277.8,512.1 277.7,548.6 286.7,595.4 C295.6,642.2 331.6,738.4 340.6,767.0" fill="none" stroke="#5a5a5a" stroke-width="14.3" stroke-linecap="round" opacity="0.6"/>
<path d="M612.1,530.5 C585.0,517.7 494.7,468.9 449.6,453.6 C404.4,438.2 368.3,433.3 341.1,438.7 C314.0,444.1 295.9,459.9 286.8,486.0 C277.8,512.1 277.7,548.6 286.7,595.4 C295.6,642.2 331.6,738.4 340.6,767.0" fill="none" stroke="#c4c4c4" stroke-width="12.3" stroke-linecap="round"/>
<path d="M612.1,530.5 C585.0,517.7 494.7,468.9 449.6,453.6 C404.4,438.2 368.3,433.3 341.1,438.7 C314.0,444.1 295.9,459.9 286.8,486.0 C277.8,512.1 277.7,548.6 286.7,595.4 C295.6,642.2 331.6,738.4 340.6,767.0" fill="none" stroke="#9a9a9a" stroke-width="8.8" stroke-linecap="round"/>
<path d="M108.3,332.4 C118.4,349.1 147.9,407.0 169.1,432.8 C190.3,458.6 212.3,476.7 235.3,487.1 C258.2,497.6 282.0,500.3 306.8,495.4 C331.5,490.5 357.1,478.0 383.6,457.7 C410.2,437.5 452.2,388.0 465.9,374.0" fill="none" stroke="#5a5a5a" stroke-width="13.1" stroke-linecap="round" opacity="0.6"/>
<path d="M108.3,332.4 C118.4,349.1 147.9,407.0 169.1,432.8 C190.3,458.6 212.3,476.7 235.3,487.1 C258.2,497.6 282.0,500.3 306.8,495.4 C331.5,490.5 357.1,478.0 383.6,457.7 C410.2,437.5 452.2,388.0 465.9,374.0" fill="none" stroke="#c4c4c4" stroke-width="11.1" stroke-linecap="round"/>
<path d="M108.3,332.4 C118.4,349.1 147.9,407.0 169.1,432.8 C190.3,458.6 212.3,476.7 235.3,487.1 C258.2,497.6 282.0,500.3 306.8,495.4 C331.5,490.5 357.1,478.0 383.6,457.7 C410.2,437.5 452.2,388.0 465.9,374.0" fill="none" stroke="#9a9a9a" stroke-width="7.6" stroke-linecap="round"/>
<path d="M502.5,205.6 C484.0,220.0 418.7,264.7 391.9,292.4 C365.0,320.1 348.1,346.4 341.2,371.5 C334.2,396.6 337.3,420.4 350.3,442.9 C363.4,465.4 386.4,486.7 419.4,506.6 C452.4,526.6 526.9,553.3 548.4,562.6" fill="none" stroke="#5a5a5a" stroke-width="12.7" stroke-linecap="round" opacity="0.6"/>
<path d="M502.5,205.6 C484.0,220.0 418.7,264.7 391.9,292.4 C365.0,320.1 348.1,346.4 341.2,371.5 C334.2,396.6 337.3,420.4 350.3,442.9 C363.4,465.4 386.4,486.7 419.4,506.6 C452.4,526.6 526.9,553.3 548.4,562.6" fill="none" stroke="#c4c4c4" stroke-width="10.7" stroke-linecap="round"/>
<path d="M502.5,205.6 C484.0,220.0 418.7,264.7 391.9,292.4 C365.0,320.1 348.1,346.4 341.2,371.5 C334.2,396.6 337.3,420.4 350.3,442.9 C363.4,465.4 386.4,486.7 419.4,506.6 C452.4,526.6 526.9,553.3 548.4,562.6" fill="none" stroke="#9a9a9a" stroke-width="7.2" stroke-linecap="round"/>
<path d="M8.9,371.2 C41.0,381.3 153.3,410.7 201.9,431.8 C250.5,453.0 283.4,475.1 300.5,498.1 C317.7,521.1 319.1,545.1 304.8,569.9 C290.5,594.8 260.5,620.7 214.8,647.5 C169.0,674.2 61.1,716.7 30.3,730.6" fill="none" stroke="#5a5a5a" stroke-width="12.0" stroke-linecap="round" opacity="0.6"/>
<path d="M8.9,371.2 C41.0,381.3 153.3,410.7 201.9,431.8 C250.5,453.0 283.4,475.1 300.5,498.1 C317.7,521.1 319.1,545.1 304.8,569.9 C290.5,594.8 260.5,620.7 214.8,647.5 C169.0,674.2 61.1,716.7 30.3,730.6" fill="none" stroke="#c4c4c4" stroke-width="10.0" stroke-linecap="round"/>
<path d="M8.9,371.2 C41.0,381.3 153.3,410.7 201.9,431.8 C250.5,453.0 283.4,475.1 300.5,498.1 C317.7,521.1 319.1,545.1 304.8,569.9 C290.5,594.8 260.5,620.7 214.8,647.5 C169.0,674.2 61.1,716.7 30.3,730.6" fill="none" stroke="#9a9a9a" stroke-width="6.5" stroke-linecap="round"/>
<path d="M141.5,483.9 C161.0,476.3 224.5,446.7 258.8,438.8 C293.2,430.9 322.7,430.1 347.4,436.4 C372.1,442.8 391.9,456.2 407.0,476.8 C422.1,497.3 432.3,525.0 437.8,559.8 C443.2,594.6 439.4,664.5 439.7,685.5" fill="none" stroke="#5a5a5a" stroke-width="16.5" stroke-linecap="round" opacity="0.6"/>
<path d="M141.5,483.9 C161.0,476.3 224.5,446.7 258.8,438.8 C293.2,430.9 322.7,430.1 347.4,436.4 C372.1,442.8 391.9,456.2 407.0,476.8 C422.1,497.3 432.3,525.0 437.8,559.8 C443.2,594.6 439.4,664.5 439.7,685.5" fill="none" stroke="#c4c4c4" stroke-width="14.5" stroke-linecap="round"/>
<path d="M141.5,483.9 C161.0,476.3 224.5,446.7 258.8,438.8 C293.2,430.9 322.7,430.1 347.4,436.4 C372.1,442.8 391.9,456.2 407.0,476.8 C422.1,497.3 432.3,525.0 437.8,559.8 C443.2,594.6 439.4,664.5 439.7,685.5" fill="none" stroke="#9a9a9a" stroke-width="11.0" stroke-linecap="round"/>
<path d="M447.9,396.3 C431.7,396.0 379.4,391.0 350.5,394.5 C321.6,398.0 296.4,405.6 274.7,417.4 C253.1,429.1 235.1,444.9 220.6,464.9 C206.2,484.8 195.4,508.8 188.2,537.0 C181.0,565.2 179.2,617.7 177.4,633.8" fill="none" stroke="#5a5a5a" stroke-width="12.4" stroke-linecap="round" opacity="0.6"/>
<path d="M447.9,396.3 C431.7,396.0 379.4,391.0 350.5,394.5 C321.6,398.0 296.4,405.6 274.7,417.4 C253.1,429.1 235.1,444.9 220.6,464.9 C206.2,484.8 195.4,508.8 188.2,537.0 C181.0,565.2 179.2,617.7 177.4,633.8" fill="none" stroke="#c4c4c4" stroke-width="10.4" stroke-linecap="round"/>
<path d="M447.9,396.3 C431.7,396.0 379.4,391.0 350.5,394.5 C321.6,398.0 296.4,405.6 274.7,417.4 C253.1,429.1 235.1,444.9 220.6,464.9 C206.2,484.8 195.4,508.8 188.2,537.0 C181.0,565.2 179.2,617.7 177.4,633.8" fill="none" stroke="#9a9a9a" stroke-width="6.9" stroke-linecap="round"/>
<path d="M19.2,124.4 C46.0,147.8 141.8,224.1 179.7,264.7 C217.6,305.4 240.0,340.0 246.8,368.4 C253.6,396.9 244.8,419.2 220.4,435.5 C196.1,451.7 156.2,461.8 100.8,465.8 C45.3,469.8 -76.8,460.6 -112.3,459.5" fill="none" stroke="#5a5a5a" stroke-width="17.0" stroke-linecap="round" opacity="0.6"/>
<path d="M19.2,124.4 C46.0,147.8 141.8,224.1 179.7,264.7 C217.6,305.4 240.0,340.0 246.8,368.4 C253.6,396.9 244.8,419.2 220.4,435.5 C196.1,451.7 156.2,461.8 100.8,465.8 C45.3,469.8 -76.8,460.6 -112.3,459.5" fill="none" stroke="#c4c4c4" stroke-width="15.0" stroke-linecap="round"/>
<path d="M19.2,124.4 C46.0,147.8 141.8,224.1 179.7,264.7 C217.6,305.4 240.0,340.0 246.8,368.4 C253.6,396.9 244.8,419.2 220.4,435.5 C196.1,451.7 156.2,461.8 100.8,465.8 C45.3,469.8 -76.8,460.6 -112.3,459.5" fill="none" stroke="#9a9a9a" stroke-width="11.5" stroke-linecap="round"/>
<path d="M65.2,350.2 C88.5,349.8 166.5,343.6 204.5,348.2 C242.5,352.7 272.0,362.6 293.2,377.7 C314.3,392.8 327.0,413.2 331.3,438.8 C335.5,464.4 331.4,495.3 318.8,531.4 C306.2,567.6 266.3,634.9 255.8,655.6" fill="none" stroke="#5a5a5a" stroke-width="16.0" stroke-linecap="round" opacity="0.6"/>
<path d="M65.2,350.2 C88.5,349.8 166.5,343.6 204.5,348.2 C242.5,352.7 272.0,362.6 293.2,377.7 C314.3,392.8 327.0,413.2 331.3,438.8 C335.5,464.4 331.4,495.3 318.8,531.4 C306.2,567.6 266.3,634.9 255.8,655.6" fill="none" stroke="#c4c4c4" stroke-width="14.0" stroke-linecap="round"/>
<path d="M65.2,350.2 C88.5,349.8 166.5,343.6 204.5,348.2 C242.5,352.7 272.0,362.6 293.2,377.7 C314.3,392.8 327.0,413.2 331.3,438.8 C335.5,464.4 331.4,495.3 318.8,531.4 C306.2,567.6 266.3,634.9 255.8,655.6" fill="none" stroke="#9a9a9a" stroke-width="10.5" stroke-linecap="round"/>
</g></g>
<rect x="295.5" y="403" width="94.5" height="69" fill="none" stroke="#e6e6e6" stroke-width="0.9"/>
<rect x="296" y="464.9" width="13.8" height="6.5" fill="none" stroke="#f2f2f2" stroke-width="1.1"/>
<rect x="312" y="433.0" width="14.0" height="38.4" fill="none" stroke="#f2f2f2" stroke-width="1.1"/>
<rect x="327" y="416.8" width="14.0" height="54.6" fill="none" stroke="#f2f2f2" stroke-width="1.1"/>
<rect x="343.6" y="436.5" width="12.2" height="34.9" fill="none" stroke="#f2f2f2" stroke-width="1.1"/>
<rect x="360" y="456.0" width="11.5" height="15.4" fill="none" stroke="#f2f2f2" stroke-width="1.1"/>
<rect x="374" y="464.9" width="14.0" height="6.5" fill="none" stroke="#f2f2f2" stroke-width="1.1"/>
<polyline points="287.6,470.2 289.9,469.7 292.2,469.0 294.5,468.0 296.9,466.6 299.2,465.0 301.5,462.8 303.8,460.2 306.2,457.1 308.5,453.5 310.8,449.4 313.2,445.0 315.5,440.2 317.8,435.2 320.1,430.3 322.5,425.6 324.8,421.4 327.1,417.8 329.4,415.1 331.8,413.5 334.1,412.9 336.4,413.5 338.8,415.1 341.1,417.8 343.4,421.4 345.7,425.6 348.1,430.3 350.4,435.2 352.7,440.2 355.0,445.0 357.4,449.4 359.7,453.5 362.0,457.1 364.4,460.2 366.7,462.8 369.0,465.0 371.3,466.6 373.7,468.0 376.0,469.0 378.3,469.7 380.6,470.2" fill="none" stroke="#dedede" stroke-width="0.9"/>
<text x="293.5" y="474.4" font-size="8.5" fill="#eeeeee" text-anchor="end" font-weight="normal" >0</text>
<text x="293.5" y="458.15" font-size="8.5" fill="#eeeeee" text-anchor="end" font-weight="normal" >10</text>
<text x="293.5" y="441.9" font-size="8.5" fill="#eeeeee" text-anchor="end" font-weight="normal" >20</text>
<text x="293.5" y="425.65" font-size="8.5" fill="#eeeeee" text-anchor="end" font-weight="normal" >30</text>
<text x="293.5" y="409.4" font-size="8.5" fill="#eeeeee" text-anchor="end" font-weight="normal" >40</text>
<text x="307.5" y="481" font-size="8.5" fill="#eeeeee" text-anchor="middle" font-weight="normal" >800</text>
<text x="340.75" y="481" font-size="8.5" fill="#eeeeee" text-anchor="middle" font-weight="normal" >900</text>
<text x="374.0" y="481" font-size="8.5" fill="#eeeeee" text-anchor="middle" font-weight="normal" >1000</text>
<text x="342" y="490.5" font-size="8.5" fill="#eeeeee" text-anchor="middle" font-weight="normal" >Diameter (nm)</text>
<text x="0" y="0" font-size="8.5" fill="#eeeeee" text-anchor="middle" font-weight="normal" transform="translate(280.5,437.5) rotate(-90)">Frequency (%)</text>
<text x="348.5" y="413.3" font-size="8.5" fill="#eeeeee" text-anchor="middle" font-weight="normal" ><tspan font-style="italic">d</tspan> = (871 ± 0.16) nm</text>
<rect x="347.8" y="534" width="39" height="2.8" fill="#ffffff"/>
<text x="367" y="529.5" font-size="13" fill="#ffffff" text-anchor="middle" font-weight="normal" >5 µm</text>
<clipPath id="sem2"><rect x="402.2" y="400" width="220.5" height="139"/></clipPath>
<rect x="402.2" y="400" width="220.5" height="139" fill="#8b8b8b"/>
<g clip-path="url(#sem2)"><g filter="url(#semblur)">
<path d="M368.6,401.9 Q415.4,390.1 462.2,400.2 Q415.4,410.3 368.6,401.9Z" fill="#464646" stroke="#b5b5b5" stroke-width="1.6"/>
<path d="M480.5,402.0 Q532.3,391.3 584.2,400.4 Q532.3,409.5 480.5,402.0Z" fill="#464646" stroke="#b5b5b5" stroke-width="1.6"/>
<path d="M588.2,400.3 Q621.5,392.4 654.8,402.0 Q621.5,411.7 588.2,400.3Z" fill="#464646" stroke="#b5b5b5" stroke-width="1.6"/>
<path d="M363.7,414.2 Q423.6,404.0 483.5,414.9 Q423.6,425.8 363.7,414.2Z" fill="#464646" stroke="#b5b5b5" stroke-width="1.6"/>
<path d="M488.1,411.2 Q519.6,404.9 551.1,413.9 Q519.6,422.9 488.1,411.2Z" fill="#464646" stroke="#b5b5b5" stroke-width="1.6"/>
<path d="M561.7,411.2 Q585.8,402.2 609.8,413.8 Q585.8,425.3 561.7,411.2Z" fill="#464646" stroke="#b5b5b5" stroke-width="1.6"/>
<path d="M622.0,412.6 Q663.0,403.0 703.9,410.8 Q663.0,418.5 622.0,412.6Z" fill="#464646" stroke="#b5b5b5" stroke-width="1.6"/>
<path d="M371.4,427.2 Q422.1,422.9 472.7,429.5 Q422.1,436.2 371.4,427.2Z" fill="#464646" stroke="#b5b5b5" stroke-width="1.6"/>
<path d="M490.3,426.2 Q540.2,414.3 590.1,423.9 Q540.2,433.6 490.3,426.2Z" fill="#464646" stroke="#b5b5b5" stroke-width="1.6"/>
<path d="M602.7,427.0 Q655.4,422.7 708.0,429.3 Q655.4,435.9 602.7,427.0Z" fill="#464646" stroke="#b5b5b5" stroke-width="1.6"/>
<path d="M380.1,435.9 Q413.9,420.1 447.8,433.1 Q413.9,446.1 380.1,435.9Z" fill="#464646" stroke="#b5b5b5" stroke-width="1.6"/>
<path d="M453.5,436.4 Q501.5,423.4 549.6,436.3 Q501.5,449.3 453.5,436.4Z" fill="#464646" stroke="#b5b5b5" stroke-width="1.6"/>
<path d="M563.5,436.8 Q612.8,430.4 662.1,437.2 Q612.8,443.9 563.5,436.8Z" fill="#464646" stroke="#b5b5b5" stroke-width="1.6"/>
<path d="M368.8,446.3 Q401.1,434.5 433.4,446.9 Q401.1,459.3 368.8,446.3Z" fill="#464646" stroke="#b5b5b5" stroke-width="1.6"/>
<path d="M442.9,448.2 Q464.8,444.3 486.7,449.9 Q464.8,455.4 442.9,448.2Z" fill="#464646" stroke="#b5b5b5" stroke-width="1.6"/>
<path d="M497.4,448.5 Q544.0,440.9 590.5,451.3 Q544.0,461.7 497.4,448.5Z" fill="#464646" stroke="#b5b5b5" stroke-width="1.6"/>
<path d="M601.9,447.3 Q661.4,436.9 720.9,449.6 Q661.4,462.3 601.9,447.3Z" fill="#464646" stroke="#b5b5b5" stroke-width="1.6"/>
<path d="M371.9,456.3 Q426.6,451.9 481.4,458.2 Q426.6,464.5 371.9,456.3Z" fill="#464646" stroke="#b5b5b5" stroke-width="1.6"/>
<path d="M499.3,456.3 Q537.3,443.1 575.4,454.8 Q537.3,466.5 499.3,456.3Z" fill="#464646" stroke="#b5b5b5" stroke-width="1.6"/>
<path d="M584.6,456.3 Q619.9,449.0 655.2,455.4 Q619.9,461.7 584.6,456.3Z" fill="#464646" stroke="#b5b5b5" stroke-width="1.6"/>
<path d="M391.8,472.8 Q429.7,466.0 467.5,473.0 Q429.7,480.0 391.8,472.8Z" fill="#464646" stroke="#b5b5b5" stroke-width="1.6"/>
<path d="M484.7,472.4 Q503.4,467.4 522.1,474.1 Q503.4,480.8 484.7,472.4Z" fill="#464646" stroke="#b5b5b5" stroke-width="1.6"/>
<path d="M541.9,471.3 Q585.0,465.0 628.0,473.4 Q585.0,481.8 541.9,471.3Z" fill="#464646" stroke="#b5b5b5" stroke-width="1.6"/>
<path d="M373.0,483.4 Q423.2,481.0 473.3,486.1 Q423.2,491.2 373.0,483.4Z" fill="#464646" stroke="#b5b5b5" stroke-width="1.6"/>
<path d="M477.8,484.0 Q520.5,474.4 563.2,484.5 Q520.5,494.7 477.8,484.0Z" fill="#464646" stroke="#b5b5b5" stroke-width="1.6"/>
<path d="M571.9,484.2 Q606.6,469.4 641.3,482.0 Q606.6,494.7 571.9,484.2Z" fill="#464646" stroke="#b5b5b5" stroke-width="1.6"/>
<path d="M363.0,494.4 Q399.5,489.2 436.0,495.3 Q399.5,501.4 363.0,494.4Z" fill="#464646" stroke="#b5b5b5" stroke-width="1.6"/>
<path d="M442.3,492.9 Q482.7,483.6 523.1,491.2 Q482.7,498.8 442.3,492.9Z" fill="#464646" stroke="#b5b5b5" stroke-width="1.6"/>
<path d="M530.0,493.7 Q555.4,486.0 580.7,494.0 Q555.4,502.1 530.0,493.7Z" fill="#464646" stroke="#b5b5b5" stroke-width="1.6"/>
<path d="M585.5,494.0 Q633.2,483.7 680.9,495.7 Q633.2,507.7 585.5,494.0Z" fill="#464646" stroke="#b5b5b5" stroke-width="1.6"/>
<path d="M364.5,505.1 Q414.5,497.2 464.5,503.7 Q414.5,510.1 364.5,505.1Z" fill="#464646" stroke="#b5b5b5" stroke-width="1.6"/>
<path d="M481.0,503.8 Q511.8,497.4 542.7,502.7 Q511.8,508.0 481.0,503.8Z" fill="#464646" stroke="#b5b5b5" stroke-width="1.6"/>
<path d="M562.9,504.5 Q592.9,498.1 623.0,507.2 Q592.9,516.2 562.9,504.5Z" fill="#464646" stroke="#b5b5b5" stroke-width="1.6"/>
<path d="M628.7,505.2 Q671.8,499.0 714.8,508.0 Q671.8,517.1 628.7,505.2Z" fill="#464646" stroke="#b5b5b5" stroke-width="1.6"/>
<path d="M383.0,517.6 Q424.4,515.0 465.7,520.5 Q424.4,526.0 383.0,517.6Z" fill="#464646" stroke="#b5b5b5" stroke-width="1.6"/>
<path d="M476.1,514.8 Q507.1,499.3 538.1,512.3 Q507.1,525.2 476.1,514.8Z" fill="#464646" stroke="#b5b5b5" stroke-width="1.6"/>
<path d="M543.4,516.2 Q595.6,505.8 647.7,516.9 Q595.6,528.0 543.4,516.2Z" fill="#464646" stroke="#b5b5b5" stroke-width="1.6"/>
<path d="M379.7,527.9 Q419.2,518.2 458.7,526.3 Q419.2,534.4 379.7,527.9Z" fill="#464646" stroke="#b5b5b5" stroke-width="1.6"/>
<path d="M463.6,529.1 Q499.5,524.1 535.4,531.0 Q499.5,538.0 463.6,529.1Z" fill="#464646" stroke="#b5b5b5" stroke-width="1.6"/>
<path d="M552.5,527.9 Q589.4,520.9 626.2,527.8 Q589.4,534.7 552.5,527.9Z" fill="#464646" stroke="#b5b5b5" stroke-width="1.6"/>
<path d="M365.4,542.1 Q403.3,535.5 441.2,544.4 Q403.3,553.4 365.4,542.1Z" fill="#464646" stroke="#b5b5b5" stroke-width="1.6"/>
<path d="M459.2,541.9 Q503.4,533.0 547.5,544.0 Q503.4,555.1 459.2,541.9Z" fill="#464646" stroke="#b5b5b5" stroke-width="1.6"/>
<path d="M564.1,542.9 Q610.6,535.2 657.1,542.2 Q610.6,549.2 564.1,542.9Z" fill="#464646" stroke="#b5b5b5" stroke-width="1.6"/>
<path d="M612.2,535.5 Q619.8,536.7 627.3,531.8" fill="none" stroke="#b0b0b0" stroke-width="3.0"/>
<path d="M489.1,421.6 Q502.1,420.4 515.2,413.2" fill="none" stroke="#b0b0b0" stroke-width="3.0"/>
<path d="M607.9,502.2 Q620.0,501.3 632.1,494.4" fill="none" stroke="#b0b0b0" stroke-width="3.9"/>
<path d="M556.3,429.8 Q567.2,434.2 578.1,432.6" fill="none" stroke="#b0b0b0" stroke-width="3.5"/>
<path d="M461.1,530.4 Q471.8,531.0 482.5,525.5" fill="none" stroke="#b0b0b0" stroke-width="3.8"/>
<path d="M438.0,494.0 Q447.5,497.9 457.0,495.9" fill="none" stroke="#b0b0b0" stroke-width="2.9"/>
<path d="M486.5,529.0 Q498.7,531.4 510.8,527.7" fill="none" stroke="#b0b0b0" stroke-width="3.4"/>
<path d="M465.3,425.5 Q476.7,426.3 488.0,421.0" fill="none" stroke="#b0b0b0" stroke-width="2.8"/>
<path d="M611.6,406.6 Q627.2,414.0 642.8,415.3" fill="none" stroke="#b0b0b0" stroke-width="3.6"/>
<path d="M409.1,469.7 Q417.0,473.7 424.9,471.8" fill="none" stroke="#b0b0b0" stroke-width="3.6"/>
<path d="M456.6,403.0 Q469.6,402.0 482.5,394.9" fill="none" stroke="#b0b0b0" stroke-width="3.0"/>
<path d="M502.6,522.8 Q513.8,522.1 525.0,515.5" fill="none" stroke="#b0b0b0" stroke-width="3.7"/>
<path d="M581.8,473.5 Q589.8,473.3 597.8,467.2" fill="none" stroke="#b0b0b0" stroke-width="3.1"/>
<path d="M523.7,432.4 Q539.2,438.8 554.7,439.3" fill="none" stroke="#b0b0b0" stroke-width="3.9"/>
<path d="M395.0,399.1 C400.7,399.6 417.7,401.9 429.0,401.9 C440.3,402.0 451.7,399.2 463.0,399.4 C474.3,399.7 485.7,403.0 497.0,403.5 C508.3,404.1 519.7,402.9 531.0,402.8 C542.3,402.7 553.7,403.3 565.0,402.8 C576.3,402.4 587.7,400.6 599.0,400.0 C610.3,399.4 627.3,399.4 633.0,399.3" fill="none" stroke="#ababab" stroke-width="1.7" opacity="0.5"/>
<path d="M395.0,415.0 C400.7,414.9 417.7,414.1 429.0,414.3 C440.3,414.4 451.7,416.0 463.0,415.9 C474.3,415.8 485.7,414.1 497.0,413.6 C508.3,413.2 519.7,413.3 531.0,413.3 C542.3,413.3 553.7,413.7 565.0,413.7 C576.3,413.7 587.7,413.2 599.0,413.4 C610.3,413.6 627.3,414.8 633.0,415.1" fill="none" stroke="#ababab" stroke-width="1.7" opacity="0.5"/>
<path d="M395.0,424.1 C400.7,424.5 417.7,425.8 429.0,426.3 C440.3,426.9 451.7,427.4 463.0,427.2 C474.3,426.9 485.7,425.1 497.0,424.7 C508.3,424.4 519.7,425.2 531.0,425.1 C542.3,425.0 553.7,424.3 565.0,424.1 C576.3,423.9 587.7,423.6 599.0,424.0 C610.3,424.3 627.3,425.9 633.0,426.3" fill="none" stroke="#ababab" stroke-width="1.5" opacity="0.5"/>
<path d="M395.0,440.9 C400.7,440.9 417.7,440.0 429.0,440.6 C440.3,441.3 451.7,444.4 463.0,444.8 C474.3,445.1 485.7,443.2 497.0,442.8 C508.3,442.4 519.7,442.0 531.0,442.2 C542.3,442.3 553.7,443.3 565.0,443.6 C576.3,443.8 587.7,443.9 599.0,443.8 C610.3,443.6 627.3,442.9 633.0,442.7" fill="none" stroke="#ababab" stroke-width="1.1" opacity="0.5"/>
<path d="M395.0,455.9 C400.7,455.7 417.7,454.9 429.0,455.0 C440.3,455.1 451.7,456.2 463.0,456.6 C474.3,457.0 485.7,457.2 497.0,457.5 C508.3,457.7 519.7,458.2 531.0,458.0 C542.3,457.7 553.7,455.6 565.0,455.7 C576.3,455.7 587.7,458.1 599.0,458.4 C610.3,458.6 627.3,457.5 633.0,457.3" fill="none" stroke="#ababab" stroke-width="1.1" opacity="0.5"/>
<path d="M395.0,472.9 C400.7,473.0 417.7,473.5 429.0,473.4 C440.3,473.3 451.7,472.9 463.0,472.3 C474.3,471.7 485.7,469.9 497.0,470.0 C508.3,470.1 519.7,472.2 531.0,472.8 C542.3,473.4 553.7,473.6 565.0,473.4 C576.3,473.2 587.7,471.6 599.0,471.6 C610.3,471.6 627.3,473.1 633.0,473.4" fill="none" stroke="#ababab" stroke-width="1.8" opacity="0.5"/>
<path d="M395.0,485.8 C400.7,485.8 417.7,485.9 429.0,485.7 C440.3,485.6 451.7,485.8 463.0,485.0 C474.3,484.3 485.7,481.5 497.0,481.1 C508.3,480.7 519.7,482.3 531.0,482.8 C542.3,483.3 553.7,483.9 565.0,484.1 C576.3,484.3 587.7,484.0 599.0,484.1 C610.3,484.2 627.3,484.7 633.0,484.8" fill="none" stroke="#ababab" stroke-width="1.5" opacity="0.5"/>
<path d="M395.0,498.8 C400.7,498.5 417.7,496.9 429.0,496.8 C440.3,496.8 451.7,498.8 463.0,498.6 C474.3,498.3 485.7,495.1 497.0,495.2 C508.3,495.3 519.7,498.8 531.0,499.1 C542.3,499.4 553.7,497.1 565.0,496.9 C576.3,496.7 587.7,497.9 599.0,498.0 C610.3,498.2 627.3,497.9 633.0,497.8" fill="none" stroke="#ababab" stroke-width="1.7" opacity="0.5"/>
<path d="M395.0,509.4 C400.7,509.6 417.7,510.9 429.0,511.0 C440.3,511.1 451.7,509.7 463.0,509.8 C474.3,510.0 485.7,511.1 497.0,511.6 C508.3,512.2 519.7,513.2 531.0,513.0 C542.3,512.9 553.7,511.3 565.0,510.8 C576.3,510.2 587.7,509.9 599.0,509.6 C610.3,509.3 627.3,509.2 633.0,509.1" fill="none" stroke="#ababab" stroke-width="1.3" opacity="0.5"/>
<path d="M395.0,524.0 C400.7,524.5 417.7,527.0 429.0,527.1 C440.3,527.3 451.7,525.3 463.0,524.9 C474.3,524.4 485.7,523.8 497.0,524.4 C508.3,525.0 519.7,528.1 531.0,528.5 C542.3,528.8 553.7,526.5 565.0,526.4 C576.3,526.4 587.7,528.3 599.0,528.3 C610.3,528.3 627.3,526.7 633.0,526.4" fill="none" stroke="#ababab" stroke-width="1.1" opacity="0.5"/>
</g></g>
<rect x="585.5" y="531.7" width="29.5" height="3.3" fill="#ffffff"/>
<text x="594.5" y="528.8" font-size="12.5" fill="#ffffff" text-anchor="middle" font-weight="normal" >5 µm</text>
<text x="626" y="392.2" font-size="26" fill="#111" text-anchor="start" font-weight="normal" >d</text>
<polygon points="656,381 775,381 775,377.5 786,387.5 775,397.5 775,394 656,394" fill="url(#tens)"/>
<text x="715.4" y="392.5" font-size="15.2" fill="#2a2a3a" text-anchor="middle" font-weight="normal" >Tensile direction</text>
<filter id="blur1" x="-30%" y="-30%" width="160%" height="160%"><feGaussianBlur stdDeviation="1.3"/></filter>
<filter id="blur2" x="-30%" y="-30%" width="160%" height="160%"><feGaussianBlur stdDeviation="3.5"/></filter>
<radialGradient id="xbg" cx="0.5" cy="0.5" r="0.72"><stop offset="0" stop-color="#2c4ce6"/><stop offset="0.6" stop-color="#2440d4"/><stop offset="1" stop-color="#10108c"/></radialGradient>
<clipPath id="xr648400"><rect x="648.7" y="400" width="67" height="63.2"/></clipPath>
<rect x="648.7" y="400" width="67" height="63.2" fill="url(#xbg)"/>
<g clip-path="url(#xr648400)">
<circle cx="682.7" cy="432.6" r="24.79" fill="none" stroke="#30c8c0" stroke-width="13.4" filter="url(#blur1)" opacity="0.6"/>
<circle cx="682.7" cy="432.6" r="24.79" fill="none" stroke="#50d040" stroke-width="10.4" filter="url(#blur1)"/>
<circle cx="682.7" cy="432.6" r="24.79" fill="none" stroke="#e8d020" stroke-width="7.4" filter="url(#blur1)"/>
<circle cx="682.7" cy="432.6" r="24.79" fill="none" stroke="#f02a10" stroke-width="5.4" filter="url(#blur1)"/>
<ellipse cx="682.7" cy="432.6" rx="4" ry="3.8" fill="#000008" filter="url(#blur1)"/>
</g>
<text x="682.2" y="413.2" font-size="14" fill="#eef4ff" text-anchor="middle" font-weight="normal" opacity="0.85">original</text>
<clipPath id="xr724400"><rect x="724" y="400" width="67.8" height="63.2"/></clipPath>
<rect x="724" y="400" width="67.8" height="63.2" fill="url(#xbg)"/>
<g clip-path="url(#xr724400)">
<circle cx="758.4" cy="432.6" r="25.086" fill="none" stroke="#30c0c8" stroke-width="12.2" filter="url(#blur1)" opacity="0.6"/>
<circle cx="758.4" cy="432.6" r="25.086" fill="none" stroke="#70d040" stroke-width="8.8" filter="url(#blur1)"/>
<circle cx="758.4" cy="432.6" r="25.086" fill="none" stroke="#b8d830" stroke-width="5.4" filter="url(#blur1)" opacity="0.8"/>
<path d="M745.9,454.3 A25.1,25.1 0 0 0 770.9,454.3" fill="none" stroke="#d8d028" stroke-width="6.8" filter="url(#blur1)"/>
<path d="M749.6,456.1 A25.1,25.1 0 0 0 767.2,456.1" fill="none" stroke="#f05010" stroke-width="3.7" filter="url(#blur1)"/>
<path d="M745.9,410.9 A25.1,25.1 0 0 1 770.9,410.9" fill="none" stroke="#d8d028" stroke-width="6.8" filter="url(#blur1)"/>
<path d="M749.6,409.1 A25.1,25.1 0 0 1 767.2,409.1" fill="none" stroke="#f05010" stroke-width="3.7" filter="url(#blur1)"/>
<path d="M752.9,429.1 Q751.4,432.6 752.9,436.1" fill="none" stroke="#c8d8ff" stroke-width="1.3" opacity="0.85"/>
<path d="M763.9,429.1 Q765.4,432.6 763.9,436.1" fill="none" stroke="#c8d8ff" stroke-width="1.3" opacity="0.85"/>
<ellipse cx="758.4" cy="432.6" rx="4.5" ry="3.8" fill="#000008" filter="url(#blur1)"/>
</g>
<text x="757.9" y="413.2" font-size="14" fill="#eef4ff" text-anchor="middle" font-weight="normal" opacity="0.85">ε = 50%</text>
<clipPath id="xr648473"><rect x="648.7" y="473.5" width="67" height="63.5"/></clipPath>
<rect x="648.7" y="473.5" width="67" height="63.5" fill="url(#xbg)"/>
<g clip-path="url(#xr648473)">
<circle cx="682.7" cy="506.25" r="24.79" fill="none" stroke="#30c0c8" stroke-width="12.1" filter="url(#blur1)" opacity="0.6"/>
<circle cx="682.7" cy="506.25" r="24.79" fill="none" stroke="#70d040" stroke-width="8.7" filter="url(#blur1)"/>
<path d="M670.3,527.7 A24.8,24.8 0 0 0 695.1,527.7" fill="none" stroke="#d8d028" stroke-width="6.7" filter="url(#blur1)"/>
<path d="M674.0,529.5 A24.8,24.8 0 0 0 691.4,529.5" fill="none" stroke="#f05010" stroke-width="3.7" filter="url(#blur1)"/>
<path d="M670.3,484.8 A24.8,24.8 0 0 1 695.1,484.8" fill="none" stroke="#d8d028" stroke-width="6.7" filter="url(#blur1)"/>
<path d="M674.0,483.0 A24.8,24.8 0 0 1 691.4,483.0" fill="none" stroke="#f05010" stroke-width="3.7" filter="url(#blur1)"/>
<path d="M676.2,502.8 Q674.7,506.2 676.2,509.8" fill="none" stroke="#c8d8ff" stroke-width="1.3" opacity="0.85"/>
<path d="M689.2,502.8 Q690.7,506.2 689.2,509.8" fill="none" stroke="#c8d8ff" stroke-width="1.3" opacity="0.85"/>
<ellipse cx="682.7" cy="506.25" rx="4.5" ry="3.8" fill="#000008" filter="url(#blur1)"/>
</g>
<text x="682.2" y="486.7" font-size="14" fill="#eef4ff" text-anchor="middle" font-weight="normal" opacity="0.85">ε = 100%</text>
<clipPath id="xr724473"><rect x="724" y="473.5" width="67.8" height="63.5"/></clipPath>
<rect x="724" y="473.5" width="67.8" height="63.5" fill="url(#xbg)"/>
<g clip-path="url(#xr724473)">
<circle cx="758.4" cy="506.25" r="25.086" fill="none" stroke="#30c0c8" stroke-width="12.2" filter="url(#blur1)" opacity="0.6"/>
<circle cx="758.4" cy="506.25" r="25.086" fill="none" stroke="#70d040" stroke-width="8.8" filter="url(#blur1)"/>
<path d="M745.9,528.0 A25.1,25.1 0 0 0 770.9,528.0" fill="none" stroke="#d8d028" stroke-width="6.8" filter="url(#blur1)"/>
<path d="M749.6,529.8 A25.1,25.1 0 0 0 767.2,529.8" fill="none" stroke="#f05010" stroke-width="3.7" filter="url(#blur1)"/>
<path d="M745.9,484.5 A25.1,25.1 0 0 1 770.9,484.5" fill="none" stroke="#d8d028" stroke-width="6.8" filter="url(#blur1)"/>
<path d="M749.6,482.7 A25.1,25.1 0 0 1 767.2,482.7" fill="none" stroke="#f05010" stroke-width="3.7" filter="url(#blur1)"/>
<path d="M751.9,502.8 Q750.4,506.2 751.9,509.8" fill="none" stroke="#c8d8ff" stroke-width="1.3" opacity="0.85"/>
<path d="M764.9,502.8 Q766.4,506.2 764.9,509.8" fill="none" stroke="#c8d8ff" stroke-width="1.3" opacity="0.85"/>
<ellipse cx="758.4" cy="506.25" rx="4.5" ry="3.8" fill="#000008" filter="url(#blur1)"/>
</g>
<text x="757.9" y="486.7" font-size="14" fill="#eef4ff" text-anchor="middle" font-weight="normal" opacity="0.85">ε = 200%</text>
<text x="7.5" y="580.3" font-size="27" fill="#111" text-anchor="start" font-weight="normal" >e</text>
<rect x="44.3" y="594.2" width="175.39999999999998" height="138.5999999999999" fill="none" stroke="#444" stroke-width="0.9"/>
<line x1="44.3" y1="732.8" x2="47.3" y2="732.8" stroke="#444" stroke-width="0.8"/>
<text x="41" y="737.0999999999999" font-size="12" fill="#333" text-anchor="end" font-weight="normal" >0.0</text>
<line x1="44.3" y1="711.3" x2="47.3" y2="711.3" stroke="#444" stroke-width="0.8"/>
<text x="41" y="715.5833333333333" font-size="12" fill="#333" text-anchor="end" font-weight="normal" >0.1</text>
<line x1="44.3" y1="689.8" x2="47.3" y2="689.8" stroke="#444" stroke-width="0.8"/>
<text x="41" y="694.0666666666666" font-size="12" fill="#333" text-anchor="end" font-weight="normal" >0.2</text>
<line x1="44.3" y1="668.2" x2="47.3" y2="668.2" stroke="#444" stroke-width="0.8"/>
<text x="41" y="672.55" font-size="12" fill="#333" text-anchor="end" font-weight="normal" >0.3</text>
<line x1="44.3" y1="646.7" x2="47.3" y2="646.7" stroke="#444" stroke-width="0.8"/>
<text x="41" y="651.0333333333333" font-size="12" fill="#333" text-anchor="end" font-weight="normal" >0.4</text>
<line x1="44.3" y1="625.2" x2="47.3" y2="625.2" stroke="#444" stroke-width="0.8"/>
<text x="41" y="629.5166666666667" font-size="12" fill="#333" text-anchor="end" font-weight="normal" >0.5</text>
<line x1="44.3" y1="603.7" x2="47.3" y2="603.7" stroke="#444" stroke-width="0.8"/>
<text x="41" y="608.0" font-size="12" fill="#333" text-anchor="end" font-weight="normal" >0.6</text>
<line x1="216.7" y1="732.8" x2="219.7" y2="732.8" stroke="#444" stroke-width="0.8"/>
<text x="224" y="737.0999999999999" font-size="12" fill="#333" text-anchor="start" font-weight="normal" >0</text>
<line x1="216.7" y1="712.8" x2="219.7" y2="712.8" stroke="#444" stroke-width="0.8"/>
<text x="224" y="717.1428571428571" font-size="12" fill="#333" text-anchor="start" font-weight="normal" >10</text>
<line x1="216.7" y1="692.9" x2="219.7" y2="692.9" stroke="#444" stroke-width="0.8"/>
<text x="224" y="697.1857142857142" font-size="12" fill="#333" text-anchor="start" font-weight="normal" >20</text>
<line x1="216.7" y1="672.9" x2="219.7" y2="672.9" stroke="#444" stroke-width="0.8"/>
<text x="224" y="677.2285714285714" font-size="12" fill="#333" text-anchor="start" font-weight="normal" >30</text>
<line x1="216.7" y1="653.0" x2="219.7" y2="653.0" stroke="#444" stroke-width="0.8"/>
<text x="224" y="657.2714285714285" font-size="12" fill="#333" text-anchor="start" font-weight="normal" >40</text>
<line x1="216.7" y1="633.0" x2="219.7" y2="633.0" stroke="#444" stroke-width="0.8"/>
<text x="224" y="637.3142857142857" font-size="12" fill="#333" text-anchor="start" font-weight="normal" >50</text>
<line x1="216.7" y1="613.1" x2="219.7" y2="613.1" stroke="#444" stroke-width="0.8"/>
<text x="224" y="617.3571428571429" font-size="12" fill="#333" text-anchor="start" font-weight="normal" >60</text>
<line x1="216.7" y1="593.1" x2="219.7" y2="593.1" stroke="#444" stroke-width="0.8"/>
<text x="224" y="597.4" font-size="12" fill="#333" text-anchor="start" font-weight="normal" >70</text>
<rect x="51.4" y="704.2" width="30.2" height="28.6" fill="url(#bar)"/>
<line x1="66.5" y1="708.5" x2="66.5" y2="699.9" stroke="#333" stroke-width="0.7"/>
<line x1="64.5" y1="708.5" x2="68.5" y2="708.5" stroke="#333" stroke-width="0.7"/>
<line x1="64.5" y1="699.9" x2="68.5" y2="699.9" stroke="#333" stroke-width="0.7"/>
<line x1="66.5" y1="732.8" x2="66.5" y2="729.8" stroke="#444" stroke-width="0.8"/>
<rect x="95.0" y="671.7" width="30.2" height="61.1" fill="url(#bar)"/>
<line x1="110.1" y1="676.4" x2="110.1" y2="667.0" stroke="#333" stroke-width="0.7"/>
<line x1="108.1" y1="676.4" x2="112.1" y2="676.4" stroke="#333" stroke-width="0.7"/>
<line x1="108.1" y1="667.0" x2="112.1" y2="667.0" stroke="#333" stroke-width="0.7"/>
<line x1="110.1" y1="732.8" x2="110.1" y2="729.8" stroke="#444" stroke-width="0.8"/>
<rect x="138.3" y="653.2" width="30.2" height="79.6" fill="url(#bar)"/>
<line x1="153.4" y1="658.6" x2="153.4" y2="647.8" stroke="#333" stroke-width="0.7"/>
<line x1="151.4" y1="658.6" x2="155.4" y2="658.6" stroke="#333" stroke-width="0.7"/>
<line x1="151.4" y1="647.8" x2="155.4" y2="647.8" stroke="#333" stroke-width="0.7"/>
<line x1="153.4" y1="732.8" x2="153.4" y2="729.8" stroke="#444" stroke-width="0.8"/>
<rect x="181.9" y="624.8" width="30.2" height="108.0" fill="url(#bar)"/>
<line x1="197" y1="630.2" x2="197" y2="619.4" stroke="#333" stroke-width="0.7"/>
<line x1="195" y1="630.2" x2="199" y2="630.2" stroke="#333" stroke-width="0.7"/>
<line x1="195" y1="619.4" x2="199" y2="619.4" stroke="#333" stroke-width="0.7"/>
<line x1="197" y1="732.8" x2="197" y2="729.8" stroke="#444" stroke-width="0.8"/>
<polyline points="66.6,623.8 109.8,611.8 153.7,608 196.9,609.6" fill="none" stroke="#e05a5a" stroke-width="1.3"/>
<line x1="66.6" y1="620.8" x2="66.6" y2="626.8" stroke="#d04040" stroke-width="0.8"/>
<circle cx="66.6" cy="623.8" r="1.6" fill="#d04040"/>
<line x1="109.8" y1="608.8" x2="109.8" y2="614.8" stroke="#d04040" stroke-width="0.8"/>
<circle cx="109.8" cy="611.8" r="1.6" fill="#d04040"/>
<line x1="153.7" y1="605" x2="153.7" y2="611" stroke="#d04040" stroke-width="0.8"/>
<circle cx="153.7" cy="608" r="1.6" fill="#d04040"/>
<line x1="196.9" y1="606.6" x2="196.9" y2="612.6" stroke="#d04040" stroke-width="0.8"/>
<circle cx="196.9" cy="609.6" r="1.6" fill="#d04040"/>
<rect x="47.7" y="634.7" width="11" height="4" fill="#4a85d5"/>
<text x="59.5" y="641.5" font-size="12" fill="#333" text-anchor="start" font-weight="normal" >Herman's factor</text>
<line x1="47.7" y1="651" x2="58.7" y2="651" stroke="#e05a5a" stroke-width="1.3"/>
<circle cx="53.2" cy="651" r="1.4" fill="#d04040"/>
<text x="59.5" y="655.5" font-size="12" fill="#333" text-anchor="start" font-weight="normal" >Crystallinity</text>
<text x="0" y="0" font-size="12" fill="#333" text-anchor="middle" font-weight="normal" transform="translate(19.5,664) rotate(-90)">Herman's factor</text>
<text x="0" y="0" font-size="12" fill="#333" text-anchor="middle" font-weight="normal" transform="translate(252.5,661.5) rotate(-90)">Crystallinity (%)</text>
<text x="0" y="0" font-size="12" fill="#333" text-anchor="middle" font-weight="normal" transform="translate(62,753) rotate(-14)">ε = 0%</text>
<text x="0" y="0" font-size="12" fill="#333" text-anchor="middle" font-weight="normal" transform="translate(105,753) rotate(-14)">ε = 50%</text>
<text x="0" y="0" font-size="12" fill="#333" text-anchor="middle" font-weight="normal" transform="translate(149,753) rotate(-14)">ε = 100%</text>
<text x="0" y="0" font-size="12" fill="#333" text-anchor="middle" font-weight="normal" transform="translate(193,753) rotate(-14)">ε = 200%</text>
<text x="263.5" y="583.5" font-size="26" fill="#111" text-anchor="start" font-weight="normal" >f</text>
<rect x="289.4" y="593" width="178.10000000000002" height="140.10000000000002" fill="none" stroke="#3a3a3a" stroke-width="1"/>
<line x1="289.4" y1="733.1" x2="292.4" y2="733.1" stroke="#3a3a3a" stroke-width="0.8"/>
<text x="286" y="737.3000000000001" font-size="12" fill="#333" text-anchor="end" font-weight="normal" >0</text>
<line x1="289.4" y1="705.1" x2="292.4" y2="705.1" stroke="#3a3a3a" stroke-width="0.8"/>
<text x="286" y="709.2800000000001" font-size="12" fill="#333" text-anchor="end" font-weight="normal" >5</text>
<line x1="289.4" y1="677.1" x2="292.4" y2="677.1" stroke="#3a3a3a" stroke-width="0.8"/>
<text x="286" y="681.2600000000001" font-size="12" fill="#333" text-anchor="end" font-weight="normal" >10</text>
<line x1="289.4" y1="649.0" x2="292.4" y2="649.0" stroke="#3a3a3a" stroke-width="0.8"/>
<text x="286" y="653.24" font-size="12" fill="#333" text-anchor="end" font-weight="normal" >15</text>
<line x1="289.4" y1="621.0" x2="292.4" y2="621.0" stroke="#3a3a3a" stroke-width="0.8"/>
<text x="286" y="625.22" font-size="12" fill="#333" text-anchor="end" font-weight="normal" >20</text>
<line x1="289.4" y1="593.0" x2="292.4" y2="593.0" stroke="#3a3a3a" stroke-width="0.8"/>
<text x="286" y="597.2" font-size="12" fill="#333" text-anchor="end" font-weight="normal" >25</text>
<line x1="290.9" y1="733.1" x2="290.9" y2="730.1" stroke="#3a3a3a" stroke-width="0.8"/>
<line x1="304.4" y1="733.1" x2="304.4" y2="731.3000000000001" stroke="#3a3a3a" stroke-width="0.8"/>
<line x1="318.0" y1="733.1" x2="318.0" y2="730.1" stroke="#3a3a3a" stroke-width="0.8"/>
<line x1="331.5" y1="733.1" x2="331.5" y2="731.3000000000001" stroke="#3a3a3a" stroke-width="0.8"/>
<line x1="345.1" y1="733.1" x2="345.1" y2="730.1" stroke="#3a3a3a" stroke-width="0.8"/>
<line x1="358.6" y1="733.1" x2="358.6" y2="731.3000000000001" stroke="#3a3a3a" stroke-width="0.8"/>
<line x1="372.2" y1="733.1" x2="372.2" y2="730.1" stroke="#3a3a3a" stroke-width="0.8"/>
<line x1="385.8" y1="733.1" x2="385.8" y2="731.3000000000001" stroke="#3a3a3a" stroke-width="0.8"/>
<line x1="399.3" y1="733.1" x2="399.3" y2="730.1" stroke="#3a3a3a" stroke-width="0.8"/>
<line x1="412.8" y1="733.1" x2="412.8" y2="731.3000000000001" stroke="#3a3a3a" stroke-width="0.8"/>
<line x1="426.4" y1="733.1" x2="426.4" y2="730.1" stroke="#3a3a3a" stroke-width="0.8"/>
<line x1="439.9" y1="733.1" x2="439.9" y2="731.3000000000001" stroke="#3a3a3a" stroke-width="0.8"/>
<line x1="453.5" y1="733.1" x2="453.5" y2="730.1" stroke="#3a3a3a" stroke-width="0.8"/>
<text x="290.9" y="748.3" font-size="12" fill="#333" text-anchor="middle" font-weight="normal" >0</text>
<text x="318.0" y="748.3" font-size="12" fill="#333" text-anchor="middle" font-weight="normal" >50</text>
<text x="345.09999999999997" y="748.3" font-size="12" fill="#333" text-anchor="middle" font-weight="normal" >100</text>
<text x="372.2" y="748.3" font-size="12" fill="#333" text-anchor="middle" font-weight="normal" >150</text>
<text x="399.29999999999995" y="748.3" font-size="12" fill="#333" text-anchor="middle" font-weight="normal" >200</text>
<text x="426.4" y="748.3" font-size="12" fill="#333" text-anchor="middle" font-weight="normal" >250</text>
<text x="453.5" y="748.3" font-size="12" fill="#333" text-anchor="middle" font-weight="normal" >300</text>
<text x="378.5" y="762.5" font-size="12" fill="#333" text-anchor="middle" font-weight="normal" >Strain (%)</text>
<text x="0" y="0" font-size="12" fill="#333" text-anchor="middle" font-weight="normal" transform="translate(266.5,658.5) rotate(-90)">Stress (MPa)</text>
<polyline points="290.9,733.1 291.6,732.8 292.3,732.4 292.9,732.0 293.6,731.6 294.3,731.2 295.0,730.8 295.6,730.4 296.3,730.0 297.0,729.6 297.7,729.2 298.4,728.8 299.0,728.4 299.7,727.9 300.4,727.5 301.1,727.1 301.7,726.7 302.4,726.3 303.1,725.8 303.8,725.4 304.4,725.0 305.1,724.6 305.8,724.1 306.5,723.7 307.2,723.3 307.8,722.8 308.5,722.4 309.2,722.0 309.9,721.5 310.5,721.1 311.2,720.7 311.9,720.2 312.6,719.8 313.3,719.4 313.9,718.9 314.6,718.5 315.3,718.0 316.0,717.6 316.6,717.2 317.3,716.7 318.0,716.3 317.4,719.3 316.8,721.7 316.2,723.6 315.6,725.1 315.0,726.3 314.4,727.2 313.8,727.9 313.2,728.6 312.6,729.1 312.0,729.5 311.4,729.9 310.8,730.2 310.2,730.5 309.7,730.8 309.1,731.0 308.5,731.2 307.9,731.4 307.3,731.6 306.7,731.8 306.1,731.9 305.5,732.1 304.9,732.2 304.3,732.3 303.7,732.4 303.1,732.5 302.5,732.6 301.9,732.7 301.3,732.8 300.7,732.8 300.1,732.9 299.5,732.9 298.9,733.0 298.3,733.0 297.7,733.0 297.1,733.1 296.5,733.1 295.9,733.1 295.3,733.1 294.7,733.1 294.2,733.1" fill="none" stroke="#a9c9ee" stroke-width="1.8" stroke-linejoin="round"/>
<polyline points="294.2,733.1 294.7,733.0 295.3,732.8 295.9,732.7 296.5,732.5 297.1,732.3 297.7,732.2 298.3,732.0 298.9,731.8 299.5,731.6 300.1,731.4 300.7,731.2 301.3,731.0 301.9,730.8 302.5,730.6 303.1,730.4 303.7,730.2 304.3,730.0 304.9,729.7 305.5,729.5 306.1,729.3 306.7,729.1 307.3,728.9 307.9,728.7 308.5,728.4 309.1,728.2 309.7,728.0 310.2,727.7 310.8,727.5 311.4,727.3 312.0,727.0 312.6,726.8 313.2,726.5 313.8,726.2 314.4,725.8 315.0,725.3 315.6,724.6 316.2,723.6 316.8,722.2 317.4,719.9 318.0,716.3 319.4,715.4 320.7,714.6 322.1,713.8 323.4,712.9 324.8,712.1 326.1,711.2 327.5,710.4 328.8,709.6 330.2,708.7 331.5,707.9 332.9,707.0 334.3,706.2 335.6,705.4 337.0,704.5 338.3,703.7 339.7,702.8 341.0,702.0 342.4,701.2 343.7,700.3 345.1,699.5 343.9,705.6 342.7,710.4 341.5,714.1 340.3,717.1 339.1,719.4 337.9,721.3 336.8,722.8 335.6,724.0 334.4,725.0 333.2,725.9 332.0,726.7 330.8,727.3 329.6,727.9 328.4,728.4 327.2,728.9 326.0,729.3 324.8,729.7 323.6,730.1 322.4,730.4 321.3,730.7 320.1,731.0 318.9,731.3 317.7,731.5 316.5,731.7 315.3,731.9 314.1,732.1 312.9,732.3 311.7,732.4 310.5,732.6 309.3,732.7 308.1,732.8 306.9,732.9 305.8,732.9 304.6,733.0 303.4,733.0 302.2,733.1 301.0,733.1 299.8,733.1 298.6,733.1 297.4,733.1" fill="none" stroke="#6399da" stroke-width="1.8" stroke-linejoin="round"/>
<polyline points="297.4,733.1 298.6,732.9 299.8,732.6 301.0,732.2 302.2,731.9 303.4,731.6 304.6,731.2 305.8,730.8 306.9,730.5 308.1,730.1 309.3,729.7 310.5,729.3 311.7,728.9 312.9,728.5 314.1,728.1 315.3,727.7 316.5,727.2 317.7,726.8 318.9,726.4 320.1,726.0 321.3,725.5 322.4,725.1 323.6,724.6 324.8,724.2 326.0,723.8 327.2,723.3 328.4,722.9 329.6,722.4 330.8,721.9 332.0,721.5 333.2,721.0 334.4,720.5 335.6,719.9 336.8,719.3 337.9,718.5 339.1,717.5 340.3,716.2 341.5,714.2 342.7,711.2 343.9,706.6 345.1,699.5 346.5,698.5 347.8,697.5 349.2,696.5 350.5,695.6 351.9,694.6 353.2,693.6 354.6,692.6 355.9,691.6 357.3,690.6 358.6,689.7 360.0,688.7 361.4,687.7 362.7,686.7 364.1,685.7 365.4,684.8 366.8,683.8 368.1,682.8 369.5,681.8 370.8,680.8 372.2,679.9 370.6,689.5 369.0,697.1 367.4,703.0 365.8,707.7 364.1,711.4 362.5,714.4 360.9,716.8 359.3,718.7 357.7,720.3 356.1,721.7 354.5,722.9 352.9,723.9 351.2,724.8 349.6,725.7 348.0,726.4 346.4,727.1 344.8,727.7 343.2,728.3 341.6,728.8 340.0,729.3 338.3,729.8 336.7,730.2 335.1,730.6 333.5,730.9 331.9,731.3 330.3,731.6 328.7,731.8 327.1,732.1 325.4,732.3 323.8,732.4 322.2,732.6 320.6,732.7 319.0,732.8 317.4,732.9 315.8,733.0 314.2,733.0 312.5,733.1 310.9,733.1 309.3,733.1 307.7,733.1" fill="none" stroke="#3768b6" stroke-width="2.0" stroke-linejoin="round"/>
<polyline points="307.7,733.1 309.3,732.7 310.9,732.3 312.5,731.7 314.2,731.2 315.8,730.7 317.4,730.1 319.0,729.5 320.6,728.9 322.2,728.3 323.8,727.7 325.4,727.1 327.1,726.4 328.7,725.8 330.3,725.1 331.9,724.5 333.5,723.8 335.1,723.1 336.7,722.5 338.3,721.8 340.0,721.1 341.6,720.4 343.2,719.7 344.8,719.0 346.4,718.3 348.0,717.6 349.6,716.9 351.2,716.2 352.9,715.4 354.5,714.7 356.1,713.9 357.7,713.1 359.3,712.2 360.9,711.2 362.5,710.0 364.1,708.4 365.8,706.3 367.4,703.2 369.0,698.5 370.6,691.2 372.2,679.9 373.6,678.8 375.1,677.7 376.5,676.6 377.9,675.5 379.4,674.4 380.8,673.3 382.3,672.2 383.7,671.1 385.1,670.0 386.6,668.9 388.0,667.8 389.4,666.7 390.9,665.7 392.3,664.6 393.7,663.5 395.2,662.4 396.6,661.3 398.1,660.2 399.5,659.1 400.9,658.0 398.8,671.7 396.7,682.3 394.6,690.7 392.5,697.3 390.4,702.5 388.3,706.7 386.2,710.1 384.1,712.8 382.0,715.1 379.9,717.0 377.8,718.7 375.7,720.2 373.6,721.5 371.5,722.6 369.4,723.7 367.3,724.6 365.2,725.5 363.1,726.3 361.0,727.1 358.9,727.8 356.8,728.4 354.7,729.0 352.6,729.6 350.5,730.1 348.4,730.5 346.3,730.9 344.2,731.3 342.1,731.6 340.0,731.9 337.9,732.2 335.8,732.4 333.7,732.6 331.6,732.7 329.5,732.8 327.4,732.9 325.3,733.0 323.2,733.1 321.1,733.1 319.0,733.1 316.9,733.1" fill="none" stroke="#eeaaad" stroke-width="1.8" stroke-linejoin="round"/>
<polyline points="316.9,733.1 319.0,732.6 321.1,731.9 323.2,731.2 325.3,730.4 327.4,729.7 329.5,728.9 331.6,728.0 333.7,727.2 335.8,726.3 337.9,725.5 340.0,724.6 342.1,723.7 344.2,722.8 346.3,721.9 348.4,720.9 350.5,720.0 352.6,719.1 354.7,718.1 356.8,717.1 358.9,716.2 361.0,715.2 363.1,714.2 365.2,713.2 367.3,712.2 369.4,711.2 371.5,710.2 373.6,709.2 375.7,708.2 377.8,707.1 379.9,706.0 382.0,704.9 384.1,703.6 386.2,702.2 388.3,700.5 390.4,698.3 392.5,695.3 394.6,690.9 396.7,684.2 398.8,674.0 400.9,658.0 402.2,656.9 403.5,655.7 404.7,654.6 406.0,653.4 407.3,652.3 408.6,651.1 409.8,650.0 411.1,648.8 412.4,647.7 413.7,646.5 414.9,645.4 416.2,644.2 417.5,643.1 418.8,641.9 420.0,640.8 421.3,639.6 422.6,638.5 423.9,637.3 425.1,636.2 426.4,635.0 424.1,652.9 421.8,666.8 419.5,677.7 417.2,686.3 414.9,693.2 412.6,698.6 410.3,703.0 408.0,706.6 405.7,709.6 403.4,712.1 401.1,714.3 398.8,716.2 396.5,717.9 394.2,719.4 391.8,720.8 389.5,722.0 387.2,723.2 384.9,724.3 382.6,725.2 380.3,726.2 378.0,727.0 375.7,727.8 373.4,728.5 371.1,729.1 368.8,729.7 366.5,730.3 364.2,730.7 361.9,731.2 359.6,731.5 357.3,731.9 355.0,732.2 352.7,732.4 350.4,732.6 348.1,732.8 345.8,732.9 343.5,733.0 341.2,733.0 338.9,733.1 336.6,733.1 334.3,733.1" fill="none" stroke="#e98a8e" stroke-width="1.8" stroke-linejoin="round"/>
<polyline points="334.3,733.1 336.6,732.4 338.9,731.5 341.2,730.6 343.5,729.6 345.8,728.6 348.1,727.6 350.4,726.5 352.7,725.4 355.0,724.3 357.3,723.1 359.6,722.0 361.9,720.8 364.2,719.6 366.5,718.4 368.8,717.2 371.1,716.0 373.4,714.8 375.7,713.5 378.0,712.3 380.3,711.0 382.6,709.7 384.9,708.4 387.2,707.2 389.5,705.8 391.8,704.5 394.2,703.2 396.5,701.9 398.8,700.5 401.1,699.1 403.4,697.7 405.7,696.2 408.0,694.6 410.3,692.8 412.6,690.5 414.9,687.7 417.2,683.7 419.5,678.0 421.8,669.3 424.1,655.9 426.4,635.0 427.8,634.1 429.1,633.2 430.5,632.3 431.8,631.3 433.2,630.4 434.5,629.5 435.9,628.6 437.2,627.6 438.6,626.7 439.9,625.8 441.3,624.9 442.7,623.9 444.0,623.0 445.4,622.1 446.7,621.2 448.1,620.2 449.4,619.3 450.8,618.4 452.1,617.5 453.5,616.5 451.6,637.7 449.8,654.3 447.9,667.3 446.1,677.5 444.2,685.6 442.4,692.1 440.5,697.3 438.6,701.6 436.8,705.2 434.9,708.2 433.1,710.8 431.2,713.0 429.4,715.0 427.5,716.8 425.7,718.5 423.8,719.9 421.9,721.3 420.1,722.6 418.2,723.8 416.4,724.8 414.5,725.8 412.7,726.8 410.8,727.6 408.9,728.4 407.1,729.1 405.2,729.7 403.4,730.3 401.5,730.8 399.7,731.3 397.8,731.6 396.0,732.0 394.1,732.3 392.2,732.5 390.4,732.7 388.5,732.8 386.7,733.0 384.8,733.0 383.0,733.1 381.1,733.1 379.2,733.1" fill="none" stroke="#d9474f" stroke-width="2.2" stroke-linejoin="round"/>
<line x1="293.8" y1="605.2" x2="321.5" y2="605.2" stroke="#a9c9ee" stroke-width="2"/>
<text x="324.5" y="609.4000000000001" font-size="11.5" fill="#333" text-anchor="start" font-weight="normal" >50%</text>
<line x1="293.8" y1="619.7" x2="321.5" y2="619.7" stroke="#6399da" stroke-width="2"/>
<text x="324.5" y="623.9000000000001" font-size="11.5" fill="#333" text-anchor="start" font-weight="normal" >100%</text>
<line x1="293.8" y1="634.2" x2="321.5" y2="634.2" stroke="#3768b6" stroke-width="2"/>
<text x="324.5" y="638.4000000000001" font-size="11.5" fill="#333" text-anchor="start" font-weight="normal" >150%</text>
<line x1="293.8" y1="648.7" x2="321.5" y2="648.7" stroke="#eeaaad" stroke-width="2"/>
<text x="324.5" y="652.9000000000001" font-size="11.5" fill="#333" text-anchor="start" font-weight="normal" >200%</text>
<line x1="293.8" y1="663.2" x2="321.5" y2="663.2" stroke="#e98a8e" stroke-width="2"/>
<text x="324.5" y="667.4000000000001" font-size="11.5" fill="#333" text-anchor="start" font-weight="normal" >250%</text>
<line x1="293.8" y1="677.7" x2="321.5" y2="677.7" stroke="#d9474f" stroke-width="2"/>
<text x="324.5" y="681.9000000000001" font-size="11.5" fill="#333" text-anchor="start" font-weight="normal" >300%</text>
<text x="483" y="578.3" font-size="26.5" fill="#111" text-anchor="start" font-weight="normal" >g</text>
<rect x="523.7" y="591.7" width="228.29999999999995" height="140.0999999999999" fill="none" stroke="#3a3a3a" stroke-width="1"/>
<line x1="523.7" y1="716.8" x2="526.7" y2="716.8" stroke="#3a3a3a" stroke-width="0.8"/>
<text x="518.5" y="720.8" font-size="11.5" fill="#5b8cc4" text-anchor="end" font-weight="normal" >0.3</text>
<line x1="523.7" y1="687.4" x2="526.7" y2="687.4" stroke="#3a3a3a" stroke-width="0.8"/>
<text x="518.5" y="691.4499999999999" font-size="11.5" fill="#5b8cc4" text-anchor="end" font-weight="normal" >0.4</text>
<line x1="523.7" y1="658.1" x2="526.7" y2="658.1" stroke="#3a3a3a" stroke-width="0.8"/>
<text x="518.5" y="662.0999999999999" font-size="11.5" fill="#5b8cc4" text-anchor="end" font-weight="normal" >0.5</text>
<line x1="523.7" y1="628.7" x2="526.7" y2="628.7" stroke="#3a3a3a" stroke-width="0.8"/>
<text x="518.5" y="632.7499999999999" font-size="11.5" fill="#5b8cc4" text-anchor="end" font-weight="normal" >0.6</text>
<line x1="523.7" y1="599.4" x2="526.7" y2="599.4" stroke="#3a3a3a" stroke-width="0.8"/>
<text x="518.5" y="603.4" font-size="11.5" fill="#5b8cc4" text-anchor="end" font-weight="normal" >0.7</text>
<line x1="542.6" y1="731.8" x2="542.6" y2="728.8" stroke="#3a3a3a" stroke-width="0.8"/>
<line x1="561.6" y1="731.8" x2="561.6" y2="730.0" stroke="#3a3a3a" stroke-width="0.8"/>
<line x1="580.7" y1="731.8" x2="580.7" y2="728.8" stroke="#3a3a3a" stroke-width="0.8"/>
<line x1="599.7" y1="731.8" x2="599.7" y2="730.0" stroke="#3a3a3a" stroke-width="0.8"/>
<line x1="618.7" y1="731.8" x2="618.7" y2="728.8" stroke="#3a3a3a" stroke-width="0.8"/>
<line x1="637.8" y1="731.8" x2="637.8" y2="730.0" stroke="#3a3a3a" stroke-width="0.8"/>
<line x1="656.8" y1="731.8" x2="656.8" y2="728.8" stroke="#3a3a3a" stroke-width="0.8"/>
<line x1="675.8" y1="731.8" x2="675.8" y2="730.0" stroke="#3a3a3a" stroke-width="0.8"/>
<line x1="694.8" y1="731.8" x2="694.8" y2="728.8" stroke="#3a3a3a" stroke-width="0.8"/>
<line x1="713.9" y1="731.8" x2="713.9" y2="730.0" stroke="#3a3a3a" stroke-width="0.8"/>
<line x1="732.9" y1="731.8" x2="732.9" y2="728.8" stroke="#3a3a3a" stroke-width="0.8"/>
<line x1="751.9" y1="731.8" x2="751.9" y2="730.0" stroke="#3a3a3a" stroke-width="0.8"/>
<text x="542.6" y="744" font-size="11.5" fill="#333" text-anchor="middle" font-weight="normal" >0</text>
<text x="580.6600000000001" y="744" font-size="11.5" fill="#333" text-anchor="middle" font-weight="normal" >200</text>
<text x="618.72" y="744" font-size="11.5" fill="#333" text-anchor="middle" font-weight="normal" >400</text>
<text x="656.78" y="744" font-size="11.5" fill="#333" text-anchor="middle" font-weight="normal" >600</text>
<text x="694.84" y="744" font-size="11.5" fill="#333" text-anchor="middle" font-weight="normal" >800</text>
<text x="732.9" y="744" font-size="11.5" fill="#333" text-anchor="middle" font-weight="normal" >1000</text>
<line x1="749" y1="717.5" x2="752" y2="717.5" stroke="#3a3a3a" stroke-width="0.8"/>
<text x="755.5" y="721.5" font-size="11.5" fill="#333" text-anchor="start" font-weight="normal" >60</text>
<line x1="749" y1="692.5" x2="752" y2="692.5" stroke="#3a3a3a" stroke-width="0.8"/>
<text x="755.5" y="696.55" font-size="11.5" fill="#333" text-anchor="start" font-weight="normal" >65</text>
<line x1="749" y1="667.6" x2="752" y2="667.6" stroke="#3a3a3a" stroke-width="0.8"/>
<text x="755.5" y="671.6" font-size="11.5" fill="#333" text-anchor="start" font-weight="normal" >70</text>
<line x1="749" y1="642.6" x2="752" y2="642.6" stroke="#3a3a3a" stroke-width="0.8"/>
<text x="755.5" y="646.65" font-size="11.5" fill="#333" text-anchor="start" font-weight="normal" >75</text>
<line x1="749" y1="617.7" x2="752" y2="617.7" stroke="#3a3a3a" stroke-width="0.8"/>
<text x="755.5" y="621.7" font-size="11.5" fill="#333" text-anchor="start" font-weight="normal" >80</text>
<line x1="749" y1="592.8" x2="752" y2="592.8" stroke="#3a3a3a" stroke-width="0.8"/>
<text x="755.5" y="596.75" font-size="11.5" fill="#333" text-anchor="start" font-weight="normal" >85</text>
<line x1="793.2" y1="592.7" x2="793.2" y2="732" stroke="#d85a5a" stroke-width="1"/>
<line x1="793.2" y1="730.8" x2="796.2" y2="730.8" stroke="#d85a5a" stroke-width="0.8"/>
<text x="797.5" y="734.8" font-size="11.5" fill="#d85a5a" text-anchor="start" font-weight="normal" >4</text>
<line x1="793.2" y1="705.5" x2="796.2" y2="705.5" stroke="#d85a5a" stroke-width="0.8"/>
<text x="797.5" y="709.4799999999999" font-size="11.5" fill="#d85a5a" text-anchor="start" font-weight="normal" >5</text>
<line x1="793.2" y1="680.2" x2="796.2" y2="680.2" stroke="#d85a5a" stroke-width="0.8"/>
<text x="797.5" y="684.16" font-size="11.5" fill="#d85a5a" text-anchor="start" font-weight="normal" >6</text>
<line x1="793.2" y1="654.8" x2="796.2" y2="654.8" stroke="#d85a5a" stroke-width="0.8"/>
<text x="797.5" y="658.8399999999999" font-size="11.5" fill="#d85a5a" text-anchor="start" font-weight="normal" >7</text>
<line x1="793.2" y1="629.5" x2="796.2" y2="629.5" stroke="#d85a5a" stroke-width="0.8"/>
<text x="797.5" y="633.52" font-size="11.5" fill="#d85a5a" text-anchor="start" font-weight="normal" >8</text>
<line x1="793.2" y1="604.2" x2="796.2" y2="604.2" stroke="#d85a5a" stroke-width="0.8"/>
<text x="797.5" y="608.1999999999999" font-size="11.5" fill="#d85a5a" text-anchor="start" font-weight="normal" >9</text>
<text x="638" y="755" font-size="11.2" fill="#333" text-anchor="middle" font-weight="normal" >Cycles</text>
<text x="0" y="0" font-size="10.6" fill="#333" text-anchor="middle" font-weight="normal" transform="translate(780,660) rotate(-90)">Elastic recovery ratio (%)</text>
<text x="0" y="0" font-size="10.7" fill="#d85a5a" text-anchor="middle" font-weight="normal" transform="translate(815.5,663.5) rotate(-90)">Young's modulus (MPa)</text>
<text x="0" y="0" font-size="10.5" fill="#5b9bd0" text-anchor="middle" font-weight="normal" transform="translate(499.5,661.5) rotate(-90)">Energy dissipation ratio (ΔU/U)</text>
<polyline points="542.6,602.0 542.8,603.0 543.6,650.6 544.5,665.6 552.1,685.2 561.6,704.7 599.7,710.5 656.8,715.1 732.9,716.0" fill="none" stroke="#6b6b6b" stroke-width="1.8"/>
<circle cx="542.6" cy="602.0" r="2.2" fill="#6b6b6b"/>
<circle cx="542.8" cy="603.0" r="2.2" fill="#6b6b6b"/>
<circle cx="543.6" cy="650.6" r="2.2" fill="#6b6b6b"/>
<circle cx="544.5" cy="665.6" r="2.2" fill="#6b6b6b"/>
<circle cx="552.1" cy="685.2" r="2.2" fill="#6b6b6b"/>
<circle cx="561.6" cy="704.7" r="2.2" fill="#6b6b6b"/>
<circle cx="599.7" cy="710.5" r="2.2" fill="#6b6b6b"/>
<circle cx="656.8" cy="715.1" r="2.2" fill="#6b6b6b"/>
<circle cx="732.9" cy="716.0" r="2.2" fill="#6b6b6b"/>
<polyline points="542.6,610.3 542.8,693.2 543.6,694.0 544.5,695.5 552.1,697.1 561.6,704.0 599.7,705.2 656.8,709.0 732.9,711.7" fill="none" stroke="#e05a5a" stroke-width="1.8"/>
<polygon points="542.6,606.9 543.5,609.1 545.8,609.2 544.0,610.8 544.6,613.1 542.6,611.8 540.6,613.1 541.2,610.8 539.4,609.2 541.7,609.1" fill="#e05a5a"/>
<polygon points="542.8,689.8 543.7,692.0 546.0,692.1 544.2,693.7 544.8,696.0 542.8,694.7 540.8,696.0 541.4,693.7 539.6,692.1 541.9,692.0" fill="#e05a5a"/>
<polygon points="543.6,690.6 544.4,692.8 546.8,692.9 545.0,694.5 545.5,696.8 543.6,695.5 541.6,696.8 542.1,694.5 540.3,692.9 542.7,692.8" fill="#e05a5a"/>
<polygon points="544.5,692.1 545.4,694.3 547.7,694.4 545.9,696.0 546.5,698.3 544.5,697.0 542.5,698.3 543.1,696.0 541.3,694.4 543.6,694.3" fill="#e05a5a"/>
<polygon points="552.1,693.7 553.0,695.9 555.3,696.0 553.5,697.6 554.1,699.9 552.1,698.6 550.1,699.9 550.7,697.6 548.9,696.0 551.2,695.9" fill="#e05a5a"/>
<polygon points="561.6,700.6 562.5,702.8 564.9,702.9 563.1,704.5 563.6,706.8 561.6,705.5 559.6,706.8 560.2,704.5 558.4,702.9 560.7,702.8" fill="#e05a5a"/>
<polygon points="599.7,701.8 600.6,704.0 602.9,704.1 601.1,705.7 601.7,708.0 599.7,706.7 597.7,708.0 598.3,705.7 596.5,704.1 598.8,704.0" fill="#e05a5a"/>
<polygon points="656.8,705.6 657.7,707.8 660.0,707.9 658.2,709.5 658.8,711.8 656.8,710.5 654.8,711.8 655.4,709.5 653.5,707.9 655.9,707.8" fill="#e05a5a"/>
<polygon points="732.9,708.3 733.8,710.5 736.1,710.6 734.3,712.2 734.9,714.5 732.9,713.2 730.9,714.5 731.5,712.2 729.7,710.6 732.0,710.5" fill="#e05a5a"/>
<polyline points="542.6,603.4 542.8,700.1 543.6,702.0 544.5,704.7 552.1,704.7 561.6,710.5 599.7,714.0 656.8,716.0 732.9,716.0" fill="none" stroke="#3f74c0" stroke-width="1.8"/>
<polygon points="542.6,600.2 539.4,605.7 545.8,605.7" fill="#3f74c0"/>
<polygon points="542.8,696.9 539.6,702.4 546.0,702.4" fill="#3f74c0"/>
<polygon points="543.6,698.8 540.4,704.3 546.8,704.3" fill="#3f74c0"/>
<polygon points="544.5,701.5 541.3,707.0 547.7,707.0" fill="#3f74c0"/>
<polygon points="552.1,701.5 548.9,707.0 555.3,707.0" fill="#3f74c0"/>
<polygon points="561.6,707.3 558.4,712.8 564.8,712.8" fill="#3f74c0"/>
<polygon points="599.7,710.8 596.5,716.3 602.9,716.3" fill="#3f74c0"/>
<polygon points="656.8,712.8 653.6,718.3 660.0,718.3" fill="#3f74c0"/>
<polygon points="732.9,712.8 729.7,718.3 736.1,718.3" fill="#3f74c0"/>
<line x1="573.6" y1="608.0" x2="597.8" y2="608.0" stroke="#3f74c0" stroke-width="1.4"/>
<polygon points="585.7,604.8 582.5,610.3 588.9,610.3" fill="#3f74c0"/>
<text x="599" y="612.0" font-size="11" fill="#333" text-anchor="start" font-weight="normal" >Energy dissipation ratio</text>
<line x1="573.6" y1="620.9" x2="597.8" y2="620.9" stroke="#6b6b6b" stroke-width="1.4"/>
<circle cx="585.7" cy="620.9" r="2.2" fill="#6b6b6b"/>
<text x="599" y="624.9" font-size="11" fill="#333" text-anchor="start" font-weight="normal" >Elastic recovery ratio</text>
<line x1="573.6" y1="633.8" x2="597.8" y2="633.8" stroke="#e05a5a" stroke-width="1.4"/>
<polygon points="585.7,630.4 586.6,632.6 588.9,632.7 587.1,634.3 587.7,636.6 585.7,635.3 583.7,636.6 584.3,634.3 582.5,632.7 584.8,632.6" fill="#e05a5a"/>
<text x="599" y="637.8" font-size="11" fill="#333" text-anchor="start" font-weight="normal" >Young's modulus</text>
</svg></body></html>
